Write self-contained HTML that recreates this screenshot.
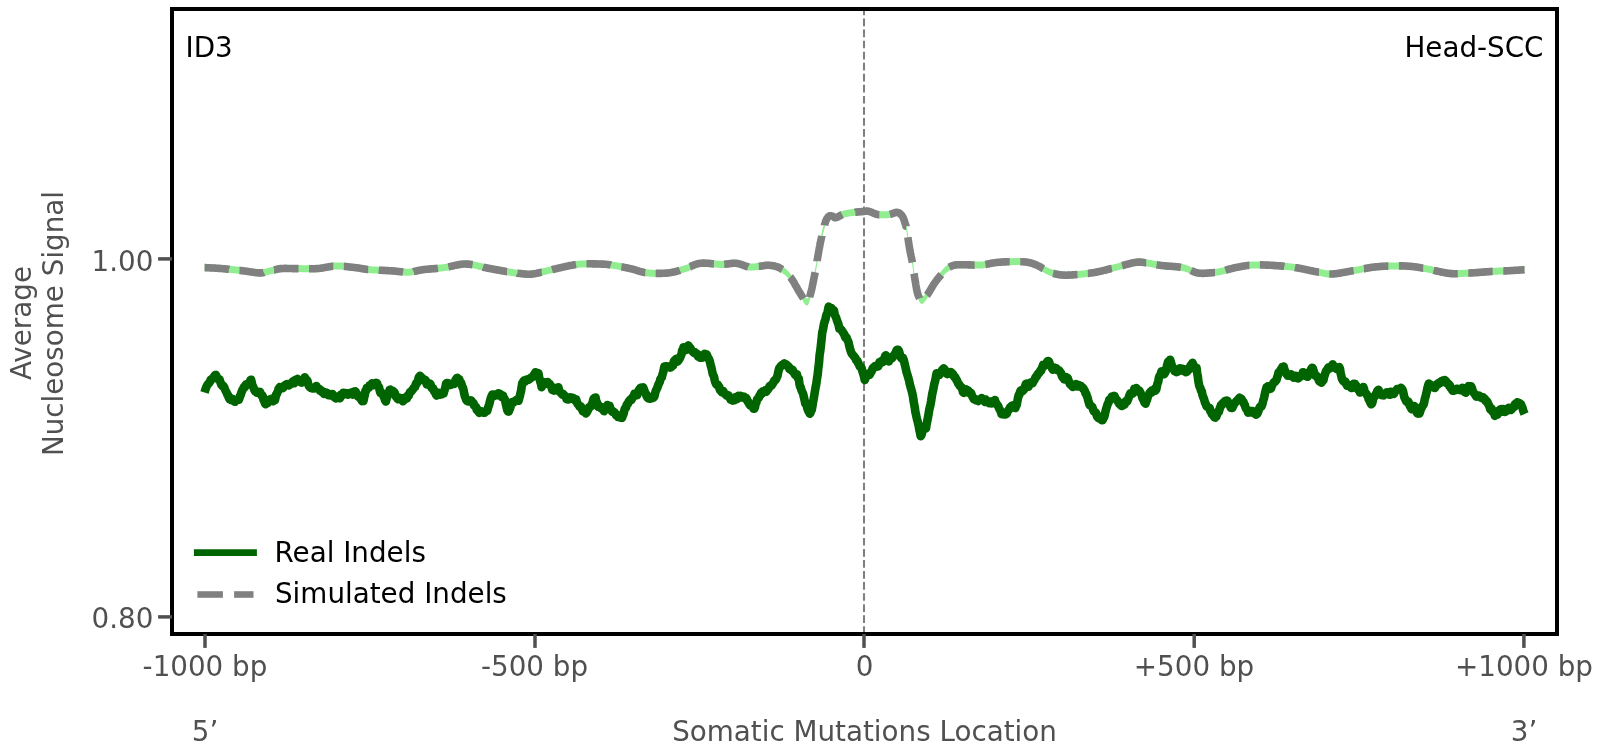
<!DOCTYPE html>
<html><head><meta charset="utf-8"><style>
html,body{margin:0;padding:0;background:#fff;}
svg{display:block;will-change:transform;}
text{font-family:'DejaVu Sans','Liberation Sans',sans-serif;font-size:27.78px;}
.g{fill:#505050;}
.k{fill:#000000;}
</style></head><body>
<svg width="1603" height="756" viewBox="0 0 1603 756">
<rect x="0" y="0" width="1603" height="756" fill="#ffffff"/>
<!-- vertical dashed line at 0 -->
<line x1="864" y1="634" x2="864" y2="9" stroke="#808080" stroke-width="2.08" stroke-dasharray="7.7 3.35"/>
<!-- simulated: lightgreen under gray dashed -->
<polygon points="204.6,264.1 205.0,264.1 205.4,264.1 205.9,264.2 206.4,264.2 207.0,264.2 207.6,264.3 208.2,264.3 208.9,264.3 209.6,264.3 210.3,264.4 211.1,264.4 211.9,264.5 212.7,264.5 213.5,264.5 214.3,264.6 215.1,264.6 216.0,264.7 216.8,264.7 217.7,264.8 218.5,264.9 219.3,264.9 220.2,265.0 221.0,265.0 221.8,265.1 222.6,265.2 223.4,265.2 224.3,265.3 225.2,265.4 226.0,265.5 226.9,265.6 227.8,265.7 228.7,265.7 229.6,265.8 230.6,265.9 231.5,266.0 232.4,266.1 233.3,266.2 234.3,266.3 235.2,266.4 236.1,266.5 237.0,266.6 237.9,266.7 238.8,266.8 239.7,266.9 240.5,267.0 241.4,267.1 242.2,267.2 243.0,267.3 243.8,267.4 244.6,267.5 245.4,267.6 246.2,267.7 246.9,267.8 247.7,267.9 248.5,268.0 249.2,268.2 250.0,268.3 250.7,268.4 251.4,268.5 252.2,268.6 252.9,268.7 253.6,268.8 254.3,268.9 255.0,269.0 255.6,269.1 256.3,269.2 256.9,269.2 257.6,269.3 258.2,269.3 258.8,269.4 259.4,269.4 260.0,269.4 260.6,269.4 261.1,269.4 261.6,269.3 262.1,269.3 262.6,269.2 263.1,269.2 263.6,269.1 264.0,269.0 264.5,268.9 264.9,268.8 265.3,268.7 265.7,268.6 266.1,268.5 266.5,268.4 266.9,268.3 267.3,268.2 267.7,268.0 268.1,267.9 268.5,267.8 268.9,267.7 269.3,267.6 269.7,267.5 270.2,267.4 270.6,267.3 271.0,267.2 271.5,267.1 271.9,267.0 272.3,266.9 272.7,266.8 273.1,266.7 273.5,266.6 273.9,266.5 274.3,266.4 274.7,266.3 275.1,266.2 275.5,266.1 275.9,266.0 276.4,265.9 276.8,265.8 277.2,265.7 277.6,265.6 278.1,265.5 278.5,265.4 279.0,265.3 279.5,265.3 280.0,265.2 280.5,265.1 281.0,265.1 281.5,265.1 282.1,265.0 282.6,265.0 283.2,265.0 283.7,265.0 284.3,264.9 284.9,264.9 285.4,264.9 286.0,264.9 286.6,264.9 287.2,265.0 287.8,265.0 288.5,265.0 289.1,265.0 289.7,265.0 290.4,265.0 291.0,265.0 291.7,265.0 292.4,265.1 293.1,265.1 293.8,265.1 294.5,265.1 295.3,265.1 296.0,265.1 296.8,265.1 297.5,265.1 298.4,265.1 299.2,265.1 300.0,265.1 300.9,265.2 301.7,265.2 302.6,265.2 303.5,265.2 304.4,265.2 305.3,265.2 306.2,265.3 307.2,265.3 308.1,265.3 309.0,265.3 309.9,265.3 310.8,265.3 311.8,265.3 312.7,265.3 313.5,265.3 314.4,265.2 315.3,265.2 316.2,265.1 317.0,265.1 317.8,265.0 318.7,265.0 319.5,264.9 320.3,264.8 321.1,264.7 321.9,264.5 322.7,264.4 323.5,264.3 324.3,264.1 325.1,264.0 325.8,263.8 326.6,263.7 327.4,263.6 328.2,263.4 329.0,263.3 329.7,263.2 330.5,263.0 331.3,262.9 332.1,262.8 332.9,262.7 333.6,262.6 334.4,262.6 335.2,262.5 336.0,262.5 336.8,262.5 337.6,262.5 338.4,262.5 339.2,262.5 340.0,262.6 340.8,262.6 341.7,262.6 342.5,262.7 343.3,262.8 344.1,262.8 344.9,262.9 345.8,263.0 346.6,263.1 347.4,263.2 348.2,263.3 349.0,263.4 349.8,263.5 350.5,263.6 351.3,263.7 352.1,263.8 352.8,263.8 353.6,263.9 354.3,264.0 355.0,264.1 355.7,264.2 356.4,264.3 357.0,264.3 357.7,264.4 358.3,264.5 358.9,264.6 359.5,264.7 360.1,264.8 360.6,264.9 361.2,265.0 361.8,265.1 362.3,265.2 362.9,265.3 363.5,265.4 364.1,265.5 364.7,265.6 365.3,265.6 365.9,265.7 366.5,265.8 367.2,265.9 367.8,266.0 368.5,266.1 369.3,266.1 370.0,266.2 370.8,266.3 371.6,266.3 372.4,266.4 373.3,266.4 374.1,266.5 375.0,266.5 375.9,266.6 376.9,266.6 377.8,266.7 378.7,266.7 379.7,266.8 380.6,266.8 381.6,266.8 382.5,266.9 383.5,266.9 384.4,266.9 385.4,267.0 386.3,267.0 387.2,267.1 388.1,267.1 389.0,267.2 389.8,267.2 390.7,267.2 391.5,267.3 392.3,267.4 393.1,267.4 393.9,267.5 394.6,267.6 395.4,267.6 396.1,267.7 396.9,267.8 397.6,267.9 398.3,268.0 399.0,268.1 399.7,268.1 400.4,268.2 401.1,268.3 401.8,268.4 402.5,268.4 403.2,268.5 403.9,268.6 404.5,268.6 405.2,268.7 405.9,268.7 406.5,268.7 407.2,268.7 407.8,268.7 408.5,268.7 409.1,268.7 409.8,268.6 410.4,268.6 411.0,268.5 411.6,268.4 412.1,268.3 412.7,268.2 413.3,268.1 413.8,268.0 414.4,267.9 414.9,267.8 415.5,267.7 416.0,267.5 416.6,267.4 417.2,267.3 417.7,267.1 418.3,267.0 418.9,266.9 419.6,266.8 420.2,266.6 420.9,266.5 421.6,266.4 422.3,266.3 423.0,266.2 423.8,266.1 424.5,266.0 425.4,265.9 426.2,265.8 427.0,265.8 427.9,265.7 428.8,265.6 429.7,265.5 430.6,265.4 431.5,265.4 432.4,265.3 433.3,265.2 434.3,265.1 435.2,265.1 436.2,265.0 437.1,264.9 438.0,264.8 439.0,264.7 439.9,264.6 440.9,264.5 441.8,264.4 442.7,264.3 443.6,264.2 444.5,264.1 445.4,264.0 446.3,263.8 447.2,263.7 448.0,263.5 448.9,263.3 449.8,263.1 450.7,262.9 451.6,262.7 452.5,262.5 453.3,262.3 454.2,262.1 455.1,261.9 456.0,261.7 456.9,261.5 457.8,261.4 458.6,261.2 459.5,261.0 460.4,260.9 461.3,260.8 462.2,260.7 463.0,260.6 463.9,260.5 464.8,260.5 465.7,260.5 466.6,260.5 467.5,260.6 468.4,260.6 469.2,260.7 470.1,260.8 471.0,261.0 471.9,261.1 472.8,261.3 473.7,261.5 474.6,261.6 475.5,261.8 476.4,262.0 477.3,262.2 478.1,262.5 479.0,262.7 479.9,262.9 480.8,263.1 481.7,263.3 482.6,263.5 483.5,263.8 484.4,264.0 485.2,264.1 486.1,264.3 487.0,264.5 487.9,264.7 488.8,264.8 489.7,265.0 490.6,265.2 491.5,265.3 492.5,265.5 493.4,265.7 494.4,265.9 495.3,266.0 496.2,266.2 497.2,266.4 498.1,266.5 499.0,266.7 499.9,266.9 500.8,267.0 501.7,267.2 502.5,267.4 503.4,267.5 504.2,267.6 505.0,267.8 505.8,267.9 506.6,268.1 507.3,268.2 508.0,268.3 508.7,268.4 509.3,268.5 509.9,268.6 510.5,268.7 511.1,268.8 511.6,268.9 512.1,269.0 512.6,269.1 513.1,269.1 513.6,269.2 514.1,269.3 514.5,269.4 515.0,269.4 515.4,269.5 515.8,269.5 516.3,269.6 516.7,269.7 517.2,269.7 517.6,269.8 518.1,269.8 518.5,269.9 519.0,269.9 519.5,270.0 520.0,270.0 520.5,270.0 521.0,270.1 521.5,270.2 522.0,270.2 522.5,270.3 523.0,270.3 523.5,270.4 523.9,270.4 524.4,270.5 524.9,270.5 525.4,270.6 525.9,270.6 526.4,270.7 526.9,270.7 527.4,270.7 528.0,270.7 528.5,270.7 529.1,270.7 529.6,270.7 530.2,270.7 530.8,270.7 531.4,270.6 532.0,270.6 532.7,270.5 533.4,270.4 534.0,270.3 534.7,270.2 535.4,270.1 536.2,269.9 536.9,269.8 537.6,269.6 538.4,269.5 539.1,269.3 539.9,269.1 540.7,268.9 541.4,268.7 542.3,268.5 543.1,268.3 543.9,268.1 544.7,267.9 545.6,267.7 546.4,267.5 547.3,267.2 548.2,267.0 549.1,266.8 550.0,266.6 550.9,266.4 551.8,266.2 552.7,266.0 553.7,265.8 554.7,265.6 555.7,265.3 556.8,265.1 557.8,264.8 558.9,264.6 560.0,264.3 561.1,264.1 562.2,263.8 563.3,263.6 564.4,263.3 565.5,263.1 566.7,262.8 567.8,262.6 568.9,262.3 570.0,262.1 571.1,261.9 572.2,261.7 573.2,261.5 574.3,261.3 575.3,261.2 576.3,261.0 577.3,260.9 578.3,260.8 579.2,260.7 580.2,260.6 581.2,260.5 582.1,260.5 583.1,260.4 584.1,260.4 585.0,260.4 585.9,260.3 586.9,260.3 587.8,260.3 588.7,260.3 589.6,260.3 590.5,260.3 591.4,260.3 592.2,260.3 593.1,260.4 593.9,260.4 594.7,260.4 595.5,260.4 596.3,260.4 597.0,260.5 597.8,260.5 598.5,260.5 599.2,260.5 599.8,260.5 600.5,260.5 601.0,260.6 601.6,260.6 602.1,260.6 602.6,260.6 603.1,260.6 603.6,260.7 604.1,260.7 604.5,260.7 605.0,260.8 605.4,260.8 605.9,260.8 606.3,260.9 606.8,260.9 607.3,261.0 607.8,261.0 608.3,261.1 608.8,261.2 609.4,261.2 609.9,261.3 610.6,261.4 611.2,261.5 611.9,261.6 612.6,261.7 613.3,261.8 614.0,261.9 614.8,262.1 615.6,262.2 616.4,262.3 617.2,262.5 618.0,262.6 618.8,262.8 619.6,262.9 620.5,263.1 621.3,263.3 622.2,263.4 623.0,263.6 623.9,263.8 624.7,263.9 625.5,264.1 626.3,264.3 627.2,264.4 628.0,264.6 628.8,264.8 629.5,264.9 630.3,265.1 631.0,265.3 631.8,265.4 632.5,265.6 633.2,265.8 633.9,266.0 634.6,266.2 635.3,266.4 636.0,266.6 636.6,266.9 637.3,267.1 638.0,267.3 638.7,267.5 639.3,267.7 640.0,267.9 640.7,268.1 641.4,268.3 642.1,268.4 642.8,268.6 643.5,268.8 644.2,268.9 645.0,269.1 645.7,269.2 646.5,269.3 647.3,269.4 648.1,269.5 648.9,269.6 649.8,269.6 650.6,269.7 651.5,269.8 652.4,269.8 653.3,269.8 654.2,269.9 655.1,269.9 656.1,269.9 657.0,269.9 657.9,269.9 658.8,269.9 659.8,269.9 660.7,269.9 661.6,269.9 662.5,269.8 663.4,269.8 664.3,269.8 665.2,269.7 666.0,269.6 666.9,269.6 667.7,269.5 668.5,269.4 669.3,269.3 670.1,269.2 670.8,269.1 671.6,268.9 672.3,268.8 673.1,268.7 673.8,268.5 674.5,268.3 675.2,268.1 675.9,268.0 676.6,267.8 677.3,267.6 678.0,267.4 678.7,267.2 679.4,267.0 680.1,266.8 680.7,266.6 681.4,266.3 682.1,266.1 682.7,265.9 683.4,265.7 684.1,265.5 684.7,265.3 685.4,265.1 686.1,264.9 686.7,264.7 687.3,264.4 687.9,264.2 688.5,264.0 689.1,263.7 689.7,263.4 690.3,263.2 690.9,262.9 691.4,262.6 692.0,262.4 692.6,262.1 693.2,261.9 693.7,261.6 694.3,261.4 694.9,261.1 695.6,260.9 696.2,260.7 696.8,260.5 697.5,260.3 698.1,260.2 698.8,260.0 699.6,259.9 700.3,259.8 701.1,259.7 701.9,259.7 702.7,259.6 703.5,259.6 704.4,259.6 705.3,259.7 706.2,259.7 707.1,259.8 708.1,259.8 709.0,259.9 710.0,260.0 710.9,260.1 711.9,260.2 712.8,260.3 713.7,260.4 714.7,260.5 715.6,260.5 716.5,260.6 717.4,260.7 718.3,260.8 719.1,260.8 719.9,260.9 720.7,260.9 721.5,260.9 722.2,260.9 723.0,260.9 723.7,260.8 724.4,260.8 725.0,260.7 725.7,260.7 726.3,260.6 727.0,260.5 727.6,260.4 728.2,260.4 728.8,260.3 729.4,260.2 730.0,260.1 730.6,260.0 731.2,260.0 731.8,259.9 732.3,259.8 732.9,259.8 733.5,259.8 734.0,259.7 734.6,259.7 735.2,259.7 735.7,259.8 736.3,259.8 736.9,259.9 737.4,260.0 738.0,260.1 738.6,260.2 739.1,260.3 739.7,260.5 740.2,260.7 740.8,260.8 741.3,261.0 741.8,261.2 742.4,261.4 742.9,261.6 743.4,261.8 743.9,262.0 744.5,262.2 745.0,262.4 745.5,262.6 746.0,262.8 746.5,262.9 747.0,263.1 747.5,263.2 748.0,263.3 748.5,263.4 749.0,263.5 749.5,263.6 750.0,263.6 750.5,263.6 751.0,263.6 751.4,263.6 751.9,263.6 752.4,263.6 752.9,263.6 753.3,263.5 753.8,263.5 754.3,263.4 754.7,263.4 755.2,263.3 755.6,263.3 756.1,263.2 756.5,263.1 757.0,263.1 757.4,263.0 757.9,263.0 758.3,262.9 758.7,262.8 759.2,262.8 759.6,262.7 760.0,262.7 760.4,262.7 760.8,262.6 761.2,262.6 761.6,262.5 762.0,262.5 762.4,262.4 762.7,262.3 763.1,262.3 763.5,262.2 763.8,262.1 764.2,262.1 764.6,262.0 764.9,262.0 765.3,261.9 765.7,261.9 766.0,261.8 766.4,261.8 766.8,261.8 767.1,261.8 767.5,261.7 767.9,261.7 768.3,261.7 768.7,261.8 769.1,261.8 769.5,261.8 769.9,261.9 770.4,261.9 770.8,262.0 771.2,262.0 771.7,262.1 772.1,262.1 772.6,262.2 773.0,262.3 773.4,262.3 773.9,262.4 774.4,262.5 774.8,262.6 775.3,262.7 775.7,262.9 776.2,263.0 776.6,263.1 777.1,263.3 777.5,263.5 778.0,263.6 778.5,263.8 778.9,264.0 779.4,264.3 779.8,264.5 780.2,264.8 780.7,265.0 781.1,265.3 781.6,265.6 782.0,265.9 782.5,266.2 782.9,266.5 783.4,266.9 783.8,267.2 784.3,267.6 784.7,267.9 785.2,268.3 785.6,268.7 786.1,269.1 786.5,269.5 787.0,269.9 787.4,270.4 787.9,270.8 788.3,271.3 788.7,271.7 789.1,272.2 789.6,272.7 790.0,273.2 790.4,273.7 790.8,274.2 791.2,274.8 791.6,275.4 792.0,276.0 792.4,276.6 792.9,277.2 793.3,277.9 793.7,278.5 794.1,279.2 794.4,279.9 794.8,280.6 795.2,281.3 795.6,282.0 796.0,282.7 796.4,283.3 796.8,284.0 797.1,284.7 797.5,285.4 797.9,286.0 798.2,286.6 798.6,287.2 798.9,287.8 799.3,288.4 799.6,288.9 799.9,289.4 800.3,289.9 800.6,290.5 800.9,291.0 801.2,291.6 801.6,292.1 801.9,292.6 802.2,293.1 802.5,293.6 802.8,294.1 803.1,294.6 803.4,295.1 803.7,295.5 804.0,296.0 804.2,296.4 804.5,296.7 804.8,297.1 805.1,297.4 805.3,297.7 805.6,297.9 805.8,298.1 806.0,298.3 806.3,298.4 806.5,298.5 806.7,298.5 806.9,298.5 807.1,298.5 807.3,298.5 807.5,298.4 807.6,298.2 807.8,298.1 807.9,297.9 808.1,297.7 808.2,297.5 808.4,297.2 808.5,296.9 808.6,296.6 808.8,296.2 808.9,295.9 809.0,295.5 809.2,295.1 809.3,294.6 809.4,294.2 809.6,293.7 809.7,293.2 809.9,292.6 810.0,292.1 810.2,291.5 810.4,290.9 810.6,290.3 810.7,289.6 810.9,288.9 811.1,288.1 811.3,287.4 811.5,286.6 811.7,285.7 811.9,284.9 812.1,284.0 812.3,283.1 812.4,282.2 812.6,281.3 812.8,280.4 813.0,279.4 813.2,278.5 813.4,277.5 813.6,276.5 813.8,275.5 814.0,274.5 814.2,273.5 814.4,272.6 814.6,271.6 814.8,270.6 815.0,269.6 815.2,268.6 815.4,267.5 815.6,266.4 815.8,265.3 816.0,264.2 816.2,263.1 816.4,261.9 816.6,260.8 816.8,259.6 816.9,258.4 817.1,257.3 817.3,256.1 817.5,255.0 817.7,253.8 817.9,252.7 818.1,251.6 818.3,250.5 818.5,249.5 818.6,248.4 818.8,247.4 819.0,246.5 819.1,245.6 819.3,244.7 819.5,243.9 819.6,243.1 819.8,242.3 819.9,241.5 820.0,240.8 820.2,240.1 820.3,239.5 820.5,238.8 820.6,238.2 820.7,237.5 820.8,236.9 821.0,236.4 821.1,235.8 821.2,235.2 821.3,234.7 821.5,234.1 821.6,233.6 821.7,233.1 821.8,232.6 821.9,232.0 822.0,231.5 822.2,231.0 822.3,230.5 822.4,230.0 822.5,229.5 822.6,229.0 822.8,228.5 822.9,228.0 823.0,227.5 823.1,227.1 823.2,226.6 823.3,226.1 823.4,225.7 823.5,225.2 823.7,224.8 823.8,224.4 823.9,224.0 824.0,223.6 824.1,223.2 824.2,222.8 824.3,222.4 824.4,222.0 824.5,221.7 824.6,221.3 824.7,221.0 824.8,220.6 824.9,220.3 825.0,220.0 825.1,219.7 825.2,219.4 825.3,219.1 825.4,218.8 825.5,218.6 825.5,218.3 825.6,218.1 825.7,217.9 825.8,217.6 825.9,217.4 825.9,217.2 826.0,217.0 826.1,216.8 826.2,216.7 826.3,216.5 826.3,216.3 826.4,216.1 826.5,216.0 826.6,215.8 826.7,215.6 826.7,215.5 826.8,215.3 826.9,215.2 827.0,215.0 827.1,214.8 827.2,214.7 827.3,214.5 827.4,214.4 827.4,214.3 827.5,214.1 827.6,214.0 827.7,213.9 827.8,213.8 827.9,213.6 828.0,213.5 828.1,213.4 828.2,213.3 828.3,213.2 828.4,213.1 828.5,213.0 828.6,213.0 828.7,212.9 828.8,212.8 828.9,212.7 829.0,212.7 829.1,212.6 829.2,212.6 829.3,212.5 829.4,212.5 829.5,212.4 829.7,212.4 829.8,212.4 829.9,212.3 830.1,212.3 830.2,212.3 830.3,212.3 830.5,212.3 830.6,212.3 830.7,212.3 830.9,212.3 831.0,212.4 831.2,212.4 831.3,212.4 831.4,212.4 831.6,212.5 831.7,212.5 831.9,212.5 832.0,212.6 832.1,212.6 832.3,212.6 832.4,212.7 832.5,212.7 832.6,212.7 832.7,212.8 832.8,212.9 833.0,212.9 833.1,213.0 833.2,213.1 833.3,213.2 833.4,213.2 833.5,213.3 833.6,213.4 833.7,213.5 833.8,213.6 833.9,213.7 834.0,213.8 834.1,213.9 834.2,213.9 834.3,214.0 834.4,214.1 834.5,214.1 834.6,214.2 834.7,214.2 834.8,214.3 835.0,214.3 835.1,214.3 835.2,214.3 835.4,214.3 835.5,214.3 835.6,214.2 835.8,214.2 835.9,214.2 836.1,214.1 836.2,214.1 836.4,214.0 836.5,214.0 836.7,213.9 836.9,213.8 837.0,213.8 837.2,213.7 837.3,213.6 837.5,213.5 837.7,213.4 837.8,213.4 838.0,213.3 838.1,213.2 838.3,213.1 838.5,213.1 838.6,213.0 838.8,212.9 839.0,212.8 839.1,212.7 839.3,212.7 839.5,212.6 839.6,212.5 839.8,212.4 839.9,212.3 840.1,212.2 840.3,212.1 840.4,212.0 840.6,211.9 840.8,211.8 840.9,211.7 841.1,211.7 841.3,211.6 841.4,211.5 841.6,211.4 841.8,211.3 842.0,211.2 842.2,211.1 842.4,211.0 842.6,210.9 842.8,210.9 843.0,210.8 843.2,210.7 843.4,210.7 843.7,210.6 843.9,210.5 844.1,210.5 844.4,210.4 844.6,210.3 844.9,210.3 845.1,210.2 845.4,210.2 845.6,210.1 845.9,210.1 846.1,210.0 846.4,210.0 846.7,209.9 846.9,209.9 847.2,209.8 847.4,209.8 847.7,209.7 848.0,209.7 848.2,209.6 848.5,209.6 848.7,209.5 849.0,209.5 849.3,209.5 849.5,209.4 849.8,209.4 850.0,209.3 850.3,209.3 850.5,209.3 850.8,209.2 851.0,209.2 851.3,209.2 851.5,209.1 851.8,209.1 852.1,209.1 852.3,209.0 852.6,209.0 852.8,209.0 853.1,208.9 853.3,208.9 853.6,208.9 853.9,208.8 854.1,208.8 854.4,208.8 854.7,208.8 854.9,208.7 855.2,208.7 855.5,208.7 855.7,208.6 856.0,208.6 856.3,208.6 856.6,208.6 856.9,208.5 857.1,208.5 857.4,208.5 857.7,208.4 858.0,208.4 858.3,208.4 858.6,208.4 858.9,208.3 859.1,208.3 859.4,208.3 859.7,208.3 860.0,208.2 860.3,208.2 860.6,208.2 860.9,208.2 861.2,208.2 861.4,208.1 861.7,208.1 862.0,208.1 862.3,208.1 862.6,208.1 862.8,208.0 863.1,208.0 863.4,208.0 863.6,207.9 863.9,207.9 864.2,207.8 864.4,207.8 864.7,207.8 865.0,207.7 865.2,207.7 865.5,207.7 865.8,207.7 866.0,207.6 866.3,207.6 866.6,207.6 866.9,207.6 867.2,207.6 867.5,207.6 867.8,207.7 868.1,207.7 868.4,207.7 868.7,207.8 869.0,207.9 869.4,208.0 869.7,208.1 870.0,208.2 870.3,208.3 870.7,208.4 871.0,208.6 871.4,208.7 871.7,208.9 872.1,209.0 872.4,209.2 872.8,209.4 873.2,209.5 873.5,209.7 873.9,209.9 874.3,210.0 874.7,210.2 875.1,210.3 875.4,210.5 875.8,210.6 876.3,210.7 876.7,210.8 877.1,210.9 877.5,211.0 877.9,211.1 878.4,211.1 878.8,211.2 879.3,211.2 879.8,211.2 880.3,211.3 880.8,211.3 881.3,211.3 881.8,211.3 882.3,211.3 882.8,211.3 883.4,211.3 883.9,211.3 884.4,211.3 884.9,211.3 885.4,211.3 885.9,211.3 886.4,211.2 886.9,211.2 887.3,211.2 887.8,211.1 888.3,211.1 888.7,211.0 889.1,211.0 889.5,210.9 889.9,210.9 890.3,210.8 890.7,210.7 891.1,210.6 891.4,210.5 891.8,210.4 892.1,210.2 892.5,210.1 892.8,210.0 893.2,209.9 893.5,209.7 893.8,209.6 894.2,209.5 894.5,209.4 894.8,209.3 895.1,209.2 895.4,209.1 895.7,209.0 896.0,208.9 896.3,208.9 896.5,208.9 896.8,208.9 897.1,208.9 897.4,208.9 897.6,209.0 897.9,209.1 898.1,209.1 898.4,209.2 898.6,209.3 898.9,209.4 899.1,209.5 899.3,209.7 899.5,209.8 899.8,210.0 900.0,210.1 900.2,210.3 900.4,210.4 900.6,210.6 900.8,210.8 901.0,211.0 901.1,211.2 901.3,211.4 901.5,211.6 901.7,211.8 901.9,212.1 902.0,212.3 902.2,212.5 902.4,212.7 902.5,213.0 902.7,213.2 902.8,213.5 903.0,213.8 903.1,214.1 903.2,214.4 903.4,214.7 903.5,215.0 903.6,215.4 903.8,215.7 903.9,216.0 904.0,216.3 904.1,216.7 904.2,217.0 904.3,217.3 904.4,217.7 904.5,218.0 904.6,218.3 904.7,218.6 904.8,218.9 904.9,219.2 905.0,219.5 905.1,219.8 905.2,220.1 905.3,220.3 905.3,220.5 905.4,220.7 905.5,220.9 905.5,221.0 905.6,221.2 905.7,221.4 905.7,221.5 905.8,221.7 905.8,221.8 905.9,222.0 905.9,222.1 905.9,222.3 906.0,222.5 906.0,222.8 906.1,223.0 906.2,223.3 906.2,223.6 906.3,223.9 906.4,224.3 906.4,224.7 906.5,225.1 906.6,225.6 906.7,226.1 906.8,226.7 906.9,227.4 907.0,228.0 907.1,228.8 907.2,229.5 907.3,230.3 907.5,231.1 907.6,231.9 907.7,232.8 907.8,233.6 908.0,234.5 908.1,235.4 908.2,236.3 908.4,237.2 908.5,238.0 908.6,238.9 908.7,239.8 908.9,240.6 909.0,241.4 909.1,242.3 909.3,243.0 909.4,243.8 909.5,244.5 909.6,245.2 909.7,245.9 909.9,246.5 910.0,247.2 910.1,247.8 910.2,248.5 910.4,249.1 910.5,249.7 910.6,250.3 910.7,250.9 910.9,251.5 911.0,252.1 911.1,252.7 911.2,253.2 911.4,253.8 911.5,254.4 911.6,255.0 911.7,255.6 911.8,256.1 912.0,256.7 912.1,257.3 912.2,257.9 912.3,258.5 912.4,259.1 912.5,259.7 912.6,260.3 912.7,260.9 912.8,261.5 912.9,262.1 913.0,262.7 913.1,263.3 913.2,263.9 913.2,264.5 913.3,265.1 913.4,265.7 913.5,266.3 913.6,266.9 913.7,267.5 913.8,268.1 913.8,268.7 913.9,269.3 914.0,269.9 914.1,270.5 914.2,271.1 914.3,271.7 914.4,272.3 914.5,273.0 914.6,273.6 914.7,274.2 914.8,274.9 914.9,275.6 915.0,276.3 915.1,277.0 915.3,277.7 915.4,278.4 915.5,279.1 915.6,279.9 915.7,280.6 915.8,281.3 916.0,282.1 916.1,282.8 916.2,283.5 916.3,284.2 916.5,284.9 916.6,285.5 916.7,286.2 916.8,286.8 917.0,287.4 917.1,288.0 917.2,288.6 917.4,289.1 917.5,289.6 917.6,290.1 917.8,290.5 917.9,291.0 918.1,291.4 918.2,291.8 918.4,292.2 918.5,292.6 918.7,293.0 918.8,293.4 919.0,293.7 919.1,294.0 919.3,294.3 919.5,294.6 919.6,294.9 919.8,295.2 919.9,295.4 920.1,295.7 920.2,295.9 920.4,296.1 920.5,296.3 920.7,296.5 920.8,296.6 921.0,296.8 921.1,296.9 921.2,297.0 921.4,297.1 921.5,297.2 921.6,297.2 921.7,297.2 921.8,297.2 922.0,297.2 922.1,297.2 922.2,297.2 922.3,297.1 922.4,297.0 922.5,297.0 922.6,296.9 922.7,296.8 922.8,296.7 922.9,296.5 923.1,296.4 923.2,296.3 923.3,296.1 923.4,296.0 923.6,295.9 923.7,295.7 923.9,295.6 924.0,295.4 924.2,295.2 924.3,295.1 924.5,294.9 924.6,294.7 924.8,294.6 924.9,294.4 925.1,294.2 925.2,294.0 925.4,293.8 925.6,293.6 925.8,293.4 925.9,293.1 926.1,292.9 926.3,292.6 926.5,292.4 926.7,292.1 926.9,291.8 927.1,291.6 927.3,291.3 927.5,291.0 927.7,290.6 927.9,290.3 928.2,290.0 928.4,289.6 928.6,289.2 928.9,288.8 929.2,288.4 929.4,288.0 929.7,287.6 930.0,287.1 930.2,286.6 930.5,286.2 930.8,285.7 931.1,285.2 931.4,284.7 931.7,284.2 932.0,283.7 932.3,283.1 932.6,282.6 933.0,282.1 933.3,281.6 933.6,281.0 933.9,280.5 934.3,280.0 934.6,279.5 935.0,279.0 935.3,278.5 935.7,278.0 936.1,277.5 936.5,277.0 936.8,276.5 937.3,276.0 937.7,275.4 938.1,274.9 938.5,274.4 939.0,273.8 939.4,273.3 939.9,272.8 940.3,272.2 940.8,271.7 941.2,271.2 941.6,270.7 942.1,270.1 942.5,269.7 943.0,269.2 943.4,268.7 943.8,268.3 944.2,267.8 944.7,267.4 945.0,267.0 945.4,266.6 945.8,266.3 946.2,266.0 946.5,265.7 946.8,265.4 947.2,265.1 947.5,264.9 947.8,264.6 948.1,264.4 948.4,264.2 948.7,264.0 949.0,263.8 949.3,263.6 949.5,263.5 949.8,263.3 950.1,263.2 950.4,263.0 950.7,262.9 951.0,262.8 951.2,262.7 951.5,262.5 951.8,262.4 952.1,262.3 952.5,262.2 952.8,262.1 953.1,262.0 953.4,261.9 953.7,261.8 954.0,261.7 954.3,261.7 954.6,261.6 954.9,261.5 955.2,261.5 955.5,261.4 955.8,261.4 956.1,261.4 956.4,261.3 956.7,261.3 957.0,261.3 957.3,261.3 957.7,261.3 958.1,261.3 958.4,261.2 958.8,261.2 959.3,261.2 959.7,261.2 960.2,261.2 960.7,261.2 961.2,261.2 961.8,261.2 962.4,261.2 963.0,261.2 963.7,261.2 964.4,261.2 965.2,261.2 966.0,261.3 966.7,261.3 967.6,261.3 968.4,261.4 969.2,261.4 970.1,261.4 971.0,261.5 971.9,261.5 972.7,261.5 973.6,261.6 974.5,261.6 975.4,261.6 976.3,261.6 977.1,261.6 978.0,261.6 978.8,261.6 979.6,261.6 980.4,261.5 981.2,261.5 981.9,261.4 982.7,261.4 983.4,261.3 984.1,261.2 984.8,261.1 985.4,261.0 986.1,260.9 986.7,260.7 987.4,260.6 988.0,260.5 988.7,260.3 989.3,260.2 990.0,260.1 990.6,259.9 991.3,259.8 992.0,259.6 992.7,259.5 993.4,259.4 994.2,259.3 994.9,259.2 995.7,259.1 996.5,259.0 997.3,258.9 998.2,258.8 999.1,258.7 1000.1,258.7 1001.1,258.6 1002.1,258.5 1003.2,258.5 1004.3,258.4 1005.4,258.4 1006.5,258.3 1007.7,258.3 1008.8,258.2 1010.0,258.2 1011.2,258.2 1012.3,258.2 1013.5,258.1 1014.6,258.1 1015.8,258.1 1016.9,258.1 1017.9,258.1 1019.0,258.1 1020.0,258.1 1021.0,258.2 1021.9,258.2 1022.8,258.2 1023.6,258.3 1024.4,258.4 1025.1,258.4 1025.8,258.5 1026.5,258.6 1027.1,258.7 1027.7,258.8 1028.3,258.9 1028.8,259.0 1029.3,259.1 1029.8,259.2 1030.3,259.3 1030.8,259.4 1031.3,259.6 1031.7,259.7 1032.2,259.9 1032.6,260.0 1033.1,260.2 1033.5,260.4 1034.0,260.5 1034.4,260.7 1034.9,260.9 1035.4,261.1 1035.9,261.3 1036.4,261.5 1036.9,261.7 1037.5,262.0 1038.0,262.2 1038.5,262.5 1039.0,262.7 1039.6,263.0 1040.1,263.3 1040.6,263.6 1041.1,263.9 1041.7,264.3 1042.2,264.6 1042.7,264.9 1043.2,265.2 1043.7,265.5 1044.3,265.9 1044.8,266.2 1045.3,266.5 1045.8,266.8 1046.4,267.1 1046.9,267.3 1047.4,267.6 1047.9,267.8 1048.5,268.1 1049.0,268.3 1049.5,268.5 1050.0,268.7 1050.6,268.9 1051.1,269.1 1051.6,269.3 1052.1,269.4 1052.6,269.6 1053.1,269.8 1053.6,269.9 1054.1,270.1 1054.6,270.2 1055.1,270.4 1055.6,270.5 1056.2,270.6 1056.7,270.7 1057.2,270.8 1057.8,271.0 1058.3,271.1 1058.9,271.1 1059.4,271.2 1060.0,271.3 1060.6,271.4 1061.2,271.4 1061.8,271.5 1062.4,271.5 1063.1,271.6 1063.7,271.6 1064.4,271.6 1065.0,271.7 1065.7,271.7 1066.4,271.7 1067.1,271.7 1067.8,271.6 1068.5,271.6 1069.2,271.6 1069.9,271.6 1070.6,271.5 1071.4,271.5 1072.1,271.4 1072.8,271.4 1073.6,271.3 1074.3,271.3 1075.0,271.2 1075.8,271.2 1076.5,271.1 1077.3,271.0 1078.0,271.0 1078.8,270.9 1079.6,270.8 1080.3,270.8 1081.1,270.7 1081.8,270.6 1082.6,270.5 1083.4,270.5 1084.2,270.4 1084.9,270.3 1085.7,270.2 1086.5,270.1 1087.3,270.0 1088.1,269.9 1088.9,269.8 1089.7,269.7 1090.5,269.6 1091.3,269.4 1092.1,269.3 1092.9,269.2 1093.8,269.1 1094.6,268.9 1095.4,268.8 1096.2,268.6 1097.1,268.5 1097.9,268.3 1098.7,268.1 1099.6,267.9 1100.5,267.8 1101.3,267.6 1102.2,267.4 1103.1,267.1 1104.0,266.9 1104.9,266.7 1105.8,266.5 1106.8,266.2 1107.7,266.0 1108.6,265.8 1109.5,265.5 1110.4,265.3 1111.3,265.0 1112.2,264.8 1113.1,264.5 1114.0,264.3 1114.8,264.1 1115.7,263.9 1116.5,263.6 1117.4,263.4 1118.2,263.2 1119.0,263.0 1119.8,262.8 1120.6,262.6 1121.4,262.4 1122.1,262.2 1122.9,262.0 1123.7,261.8 1124.5,261.5 1125.2,261.3 1126.0,261.1 1126.7,260.9 1127.4,260.7 1128.2,260.5 1128.9,260.3 1129.6,260.2 1130.3,260.0 1131.0,259.8 1131.6,259.6 1132.3,259.5 1132.9,259.3 1133.6,259.2 1134.2,259.1 1134.8,259.0 1135.4,258.9 1136.0,258.8 1136.6,258.7 1137.1,258.7 1137.6,258.6 1138.1,258.6 1138.6,258.6 1139.0,258.6 1139.4,258.6 1139.8,258.6 1140.3,258.6 1140.7,258.6 1141.0,258.6 1141.4,258.7 1141.8,258.7 1142.2,258.8 1142.6,258.8 1143.0,258.9 1143.4,258.9 1143.8,259.0 1144.2,259.1 1144.7,259.1 1145.1,259.2 1145.6,259.3 1146.1,259.3 1146.6,259.4 1147.1,259.5 1147.7,259.5 1148.2,259.6 1148.8,259.7 1149.3,259.8 1149.9,259.9 1150.4,260.0 1151.0,260.1 1151.6,260.3 1152.2,260.4 1152.8,260.5 1153.4,260.6 1154.0,260.7 1154.6,260.9 1155.3,261.0 1155.9,261.1 1156.6,261.2 1157.2,261.3 1157.9,261.5 1158.6,261.6 1159.3,261.7 1160.0,261.8 1160.8,261.9 1161.5,262.0 1162.3,262.1 1163.1,262.2 1163.9,262.3 1164.7,262.3 1165.6,262.4 1166.5,262.5 1167.4,262.6 1168.3,262.6 1169.3,262.7 1170.2,262.7 1171.2,262.8 1172.1,262.9 1173.1,263.0 1174.0,263.0 1174.9,263.1 1175.9,263.2 1176.8,263.3 1177.7,263.4 1178.6,263.5 1179.5,263.6 1180.3,263.7 1181.1,263.8 1181.9,264.0 1182.7,264.1 1183.4,264.3 1184.2,264.4 1184.9,264.6 1185.6,264.9 1186.2,265.1 1186.9,265.3 1187.5,265.6 1188.2,265.8 1188.8,266.1 1189.4,266.3 1190.0,266.6 1190.6,266.9 1191.2,267.1 1191.8,267.4 1192.4,267.7 1193.0,267.9 1193.5,268.1 1194.1,268.4 1194.7,268.6 1195.2,268.8 1195.8,269.0 1196.4,269.1 1196.9,269.3 1197.5,269.4 1198.1,269.5 1198.6,269.6 1199.2,269.7 1199.8,269.7 1200.3,269.8 1200.9,269.8 1201.4,269.8 1202.0,269.8 1202.5,269.9 1203.1,269.9 1203.6,269.8 1204.2,269.8 1204.7,269.8 1205.2,269.8 1205.7,269.7 1206.3,269.7 1206.8,269.7 1207.3,269.6 1207.8,269.6 1208.3,269.5 1208.8,269.5 1209.3,269.5 1209.8,269.4 1210.3,269.4 1210.8,269.4 1211.2,269.3 1211.7,269.3 1212.1,269.3 1212.6,269.2 1213.0,269.2 1213.4,269.1 1213.8,269.1 1214.3,269.0 1214.7,269.0 1215.1,268.9 1215.5,268.9 1215.9,268.8 1216.3,268.8 1216.7,268.7 1217.1,268.6 1217.6,268.6 1218.0,268.5 1218.5,268.4 1218.9,268.3 1219.4,268.2 1219.9,268.1 1220.4,268.0 1220.9,267.9 1221.4,267.8 1222.0,267.7 1222.5,267.5 1223.1,267.4 1223.7,267.2 1224.2,267.1 1224.8,266.9 1225.4,266.8 1226.0,266.6 1226.6,266.4 1227.3,266.2 1227.9,266.1 1228.5,265.9 1229.1,265.7 1229.8,265.5 1230.4,265.4 1231.1,265.2 1231.7,265.0 1232.4,264.9 1233.0,264.7 1233.7,264.5 1234.4,264.4 1235.0,264.2 1235.7,264.1 1236.4,264.0 1237.0,263.8 1237.7,263.7 1238.4,263.6 1239.1,263.4 1239.8,263.3 1240.4,263.2 1241.1,263.0 1241.8,262.9 1242.5,262.8 1243.2,262.7 1243.9,262.5 1244.7,262.4 1245.4,262.3 1246.1,262.2 1246.9,262.1 1247.6,262.0 1248.3,261.9 1249.1,261.8 1249.9,261.7 1250.6,261.7 1251.4,261.6 1252.2,261.5 1253.0,261.5 1253.8,261.5 1254.6,261.4 1255.5,261.4 1256.3,261.4 1257.2,261.4 1258.0,261.4 1258.9,261.4 1259.8,261.4 1260.7,261.4 1261.6,261.4 1262.5,261.4 1263.4,261.5 1264.3,261.5 1265.2,261.5 1266.1,261.6 1267.0,261.6 1267.9,261.6 1268.8,261.7 1269.7,261.7 1270.6,261.8 1271.5,261.8 1272.4,261.9 1273.3,261.9 1274.2,262.0 1275.1,262.1 1276.0,262.1 1276.9,262.2 1277.7,262.2 1278.6,262.3 1279.5,262.4 1280.4,262.4 1281.3,262.5 1282.2,262.6 1283.0,262.7 1283.9,262.7 1284.8,262.8 1285.7,262.9 1286.6,263.0 1287.5,263.1 1288.3,263.2 1289.2,263.3 1290.1,263.4 1291.0,263.5 1291.9,263.6 1292.8,263.7 1293.6,263.8 1294.5,264.0 1295.4,264.1 1296.3,264.2 1297.2,264.4 1298.1,264.5 1299.0,264.7 1299.9,264.9 1300.8,265.0 1301.8,265.2 1302.7,265.4 1303.6,265.6 1304.6,265.8 1305.5,266.0 1306.4,266.2 1307.3,266.4 1308.2,266.6 1309.1,266.8 1310.0,267.0 1310.9,267.2 1311.7,267.3 1312.6,267.5 1313.4,267.7 1314.3,267.9 1315.1,268.0 1315.8,268.2 1316.6,268.3 1317.3,268.4 1318.0,268.6 1318.7,268.7 1319.4,268.8 1320.0,269.0 1320.6,269.1 1321.2,269.3 1321.8,269.4 1322.4,269.5 1322.9,269.6 1323.5,269.8 1324.0,269.9 1324.6,270.0 1325.2,270.1 1325.7,270.2 1326.3,270.2 1326.9,270.3 1327.5,270.4 1328.1,270.4 1328.7,270.5 1329.4,270.5 1330.1,270.5 1330.8,270.5 1331.5,270.5 1332.3,270.5 1333.0,270.4 1333.8,270.4 1334.7,270.3 1335.5,270.2 1336.4,270.1 1337.2,270.0 1338.1,269.9 1339.0,269.7 1339.9,269.6 1340.8,269.4 1341.7,269.3 1342.6,269.1 1343.5,268.9 1344.5,268.8 1345.4,268.6 1346.3,268.4 1347.3,268.3 1348.2,268.1 1349.1,267.9 1350.0,267.8 1350.9,267.6 1351.8,267.4 1352.7,267.3 1353.6,267.2 1354.5,267.0 1355.4,266.8 1356.2,266.7 1357.1,266.5 1358.0,266.4 1358.9,266.2 1359.8,266.0 1360.7,265.8 1361.5,265.7 1362.4,265.5 1363.3,265.3 1364.2,265.2 1365.1,265.0 1366.0,264.8 1366.8,264.7 1367.7,264.5 1368.6,264.4 1369.5,264.2 1370.4,264.1 1371.2,263.9 1372.1,263.8 1373.0,263.7 1373.9,263.6 1374.8,263.5 1375.7,263.4 1376.6,263.3 1377.5,263.2 1378.4,263.2 1379.3,263.1 1380.2,263.0 1381.1,262.9 1382.0,262.9 1382.9,262.8 1383.9,262.8 1384.8,262.7 1385.7,262.7 1386.6,262.6 1387.5,262.6 1388.3,262.6 1389.2,262.5 1390.1,262.5 1391.0,262.5 1391.8,262.5 1392.7,262.4 1393.5,262.4 1394.3,262.4 1395.1,262.4 1395.9,262.4 1396.7,262.4 1397.4,262.4 1398.2,262.4 1398.9,262.4 1399.6,262.4 1400.4,262.4 1401.1,262.4 1401.8,262.4 1402.5,262.4 1403.2,262.4 1403.9,262.4 1404.6,262.5 1405.2,262.5 1405.9,262.5 1406.6,262.6 1407.3,262.6 1408.0,262.7 1408.6,262.7 1409.3,262.8 1410.0,262.8 1410.7,262.9 1411.4,262.9 1412.1,263.0 1412.8,263.1 1413.5,263.2 1414.2,263.2 1414.9,263.3 1415.6,263.4 1416.2,263.5 1416.9,263.6 1417.6,263.7 1418.3,263.8 1418.9,263.9 1419.6,264.1 1420.3,264.2 1421.0,264.3 1421.7,264.4 1422.3,264.6 1423.0,264.7 1423.8,264.8 1424.5,264.9 1425.2,265.1 1425.9,265.2 1426.7,265.4 1427.4,265.5 1428.2,265.7 1429.0,265.8 1429.8,266.0 1430.6,266.1 1431.5,266.3 1432.3,266.5 1433.2,266.7 1434.0,266.9 1434.9,267.1 1435.8,267.3 1436.7,267.5 1437.6,267.7 1438.5,267.9 1439.4,268.1 1440.3,268.3 1441.2,268.5 1442.1,268.7 1443.0,268.9 1444.0,269.1 1444.9,269.3 1445.8,269.4 1446.7,269.6 1447.6,269.7 1448.5,269.8 1449.4,269.9 1450.3,270.0 1451.2,270.1 1452.1,270.1 1453.0,270.2 1453.8,270.2 1454.7,270.2 1455.6,270.2 1456.5,270.2 1457.4,270.2 1458.3,270.2 1459.1,270.1 1460.0,270.1 1460.9,270.1 1461.8,270.0 1462.7,270.0 1463.6,269.9 1464.4,269.8 1465.3,269.8 1466.2,269.7 1467.1,269.7 1468.0,269.6 1468.9,269.6 1469.7,269.5 1470.6,269.4 1471.5,269.4 1472.4,269.4 1473.3,269.3 1474.2,269.2 1475.1,269.2 1476.0,269.1 1476.9,269.1 1477.9,269.0 1478.8,268.9 1479.7,268.9 1480.7,268.8 1481.6,268.7 1482.5,268.6 1483.4,268.6 1484.3,268.5 1485.2,268.4 1486.1,268.4 1487.0,268.3 1487.8,268.2 1488.7,268.2 1489.5,268.1 1490.4,268.1 1491.2,268.0 1491.9,267.9 1492.7,267.9 1493.4,267.9 1494.2,267.8 1494.8,267.8 1495.5,267.8 1496.2,267.7 1496.8,267.7 1497.4,267.7 1498.0,267.7 1498.6,267.6 1499.2,267.6 1499.8,267.6 1500.4,267.6 1500.9,267.6 1501.5,267.5 1502.1,267.5 1502.6,267.5 1503.2,267.5 1503.8,267.5 1504.4,267.4 1505.0,267.4 1505.6,267.4 1506.2,267.4 1506.8,267.3 1507.5,267.3 1508.2,267.3 1508.9,267.2 1509.6,267.2 1510.4,267.1 1511.2,267.1 1512.0,267.0 1512.8,267.0 1513.6,266.9 1514.5,266.9 1515.3,266.8 1516.1,266.8 1516.9,266.7 1517.7,266.7 1518.5,266.6 1519.3,266.6 1520.0,266.5 1520.7,266.5 1521.4,266.4 1522.0,266.4 1522.6,266.3 1523.2,266.3 1523.7,266.3 1524.1,266.2 1524.5,266.2 1524.5,273.2 1524.1,273.2 1523.7,273.3 1523.2,273.3 1522.6,273.3 1522.0,273.4 1521.4,273.4 1520.7,273.5 1520.0,273.5 1519.3,273.6 1518.5,273.6 1517.7,273.7 1516.9,273.7 1516.1,273.8 1515.3,273.8 1514.5,273.9 1513.6,273.9 1512.8,274.0 1512.0,274.0 1511.2,274.1 1510.4,274.1 1509.6,274.2 1508.9,274.2 1508.2,274.3 1507.5,274.3 1506.8,274.3 1506.2,274.4 1505.6,274.4 1505.0,274.4 1504.4,274.4 1503.8,274.5 1503.2,274.5 1502.6,274.5 1502.1,274.5 1501.5,274.5 1500.9,274.6 1500.4,274.6 1499.8,274.6 1499.2,274.6 1498.6,274.6 1498.0,274.7 1497.4,274.7 1496.8,274.7 1496.2,274.7 1495.5,274.8 1494.8,274.8 1494.2,274.8 1493.4,274.9 1492.7,274.9 1491.9,274.9 1491.2,275.0 1490.4,275.1 1489.5,275.1 1488.7,275.2 1487.8,275.2 1487.0,275.3 1486.1,275.4 1485.2,275.4 1484.3,275.5 1483.4,275.6 1482.5,275.6 1481.6,275.7 1480.7,275.8 1479.7,275.9 1478.8,275.9 1477.9,276.0 1476.9,276.1 1476.0,276.1 1475.1,276.2 1474.2,276.2 1473.3,276.3 1472.4,276.4 1471.5,276.4 1470.6,276.4 1469.7,276.5 1468.9,276.6 1468.0,276.6 1467.1,276.7 1466.2,276.7 1465.3,276.8 1464.4,276.8 1463.6,276.9 1462.7,277.0 1461.8,277.0 1460.9,277.1 1460.0,277.1 1459.1,277.1 1458.3,277.2 1457.4,277.2 1456.5,277.2 1455.6,277.2 1454.7,277.2 1453.8,277.2 1453.0,277.2 1452.1,277.1 1451.2,277.1 1450.3,277.0 1449.4,276.9 1448.5,276.8 1447.6,276.7 1446.7,276.6 1445.8,276.4 1444.9,276.3 1444.0,276.1 1443.0,275.9 1442.1,275.7 1441.2,275.5 1440.3,275.3 1439.4,275.1 1438.5,274.9 1437.6,274.7 1436.7,274.5 1435.8,274.3 1434.9,274.1 1434.0,273.9 1433.2,273.7 1432.3,273.5 1431.5,273.3 1430.6,273.1 1429.8,273.0 1429.0,272.8 1428.2,272.7 1427.4,272.5 1426.7,272.4 1425.9,272.2 1425.2,272.1 1424.5,271.9 1423.8,271.8 1423.0,271.7 1422.3,271.6 1421.7,271.4 1421.0,271.3 1420.3,271.2 1419.6,271.1 1418.9,270.9 1418.3,270.8 1417.6,270.7 1416.9,270.6 1416.2,270.5 1415.6,270.4 1414.9,270.3 1414.2,270.2 1413.5,270.2 1412.8,270.1 1412.1,270.0 1411.4,269.9 1410.7,269.9 1410.0,269.8 1409.3,269.8 1408.6,269.7 1408.0,269.7 1407.3,269.6 1406.6,269.6 1405.9,269.5 1405.2,269.5 1404.6,269.5 1403.9,269.4 1403.2,269.4 1402.5,269.4 1401.8,269.4 1401.1,269.4 1400.4,269.4 1399.6,269.4 1398.9,269.4 1398.2,269.4 1397.4,269.4 1396.7,269.4 1395.9,269.4 1395.1,269.4 1394.3,269.4 1393.5,269.4 1392.7,269.4 1391.8,269.5 1391.0,269.5 1390.1,269.5 1389.2,269.5 1388.3,269.6 1387.5,269.6 1386.6,269.6 1385.7,269.7 1384.8,269.7 1383.9,269.8 1382.9,269.8 1382.0,269.9 1381.1,269.9 1380.2,270.0 1379.3,270.1 1378.4,270.2 1377.5,270.2 1376.6,270.3 1375.7,270.4 1374.8,270.5 1373.9,270.6 1373.0,270.7 1372.1,270.8 1371.2,270.9 1370.4,271.1 1369.5,271.2 1368.6,271.4 1367.7,271.5 1366.8,271.7 1366.0,271.8 1365.1,272.0 1364.2,272.2 1363.3,272.3 1362.4,272.5 1361.5,272.7 1360.7,272.8 1359.8,273.0 1358.9,273.2 1358.0,273.4 1357.1,273.5 1356.2,273.7 1355.4,273.8 1354.5,274.0 1353.6,274.2 1352.7,274.3 1351.8,274.4 1350.9,274.6 1350.0,274.8 1349.1,274.9 1348.2,275.1 1347.3,275.3 1346.3,275.4 1345.4,275.6 1344.5,275.8 1343.5,275.9 1342.6,276.1 1341.7,276.3 1340.8,276.4 1339.9,276.6 1339.0,276.7 1338.1,276.9 1337.2,277.0 1336.4,277.1 1335.5,277.2 1334.7,277.3 1333.8,277.4 1333.0,277.4 1332.3,277.5 1331.5,277.5 1330.8,277.5 1330.1,277.5 1329.4,277.5 1328.7,277.5 1328.1,277.4 1327.5,277.4 1326.9,277.3 1326.3,277.2 1325.7,277.2 1325.2,277.1 1324.6,277.0 1324.0,276.9 1323.5,276.8 1322.9,276.6 1322.4,276.5 1321.8,276.4 1321.2,276.3 1320.6,276.1 1320.0,276.0 1319.4,275.8 1318.7,275.7 1318.0,275.6 1317.3,275.4 1316.6,275.3 1315.8,275.2 1315.1,275.0 1314.3,274.9 1313.4,274.7 1312.6,274.5 1311.7,274.3 1310.9,274.2 1310.0,274.0 1309.1,273.8 1308.2,273.6 1307.3,273.4 1306.4,273.2 1305.5,273.0 1304.6,272.8 1303.6,272.6 1302.7,272.4 1301.8,272.2 1300.8,272.0 1299.9,271.9 1299.0,271.7 1298.1,271.5 1297.2,271.4 1296.3,271.2 1295.4,271.1 1294.5,271.0 1293.6,270.8 1292.8,270.7 1291.9,270.6 1291.0,270.5 1290.1,270.4 1289.2,270.3 1288.3,270.2 1287.5,270.1 1286.6,270.0 1285.7,269.9 1284.8,269.8 1283.9,269.7 1283.0,269.7 1282.2,269.6 1281.3,269.5 1280.4,269.4 1279.5,269.4 1278.6,269.3 1277.7,269.2 1276.9,269.2 1276.0,269.1 1275.1,269.1 1274.2,269.0 1273.3,268.9 1272.4,268.9 1271.5,268.8 1270.6,268.8 1269.7,268.7 1268.8,268.7 1267.9,268.6 1267.0,268.6 1266.1,268.6 1265.2,268.5 1264.3,268.5 1263.4,268.5 1262.5,268.4 1261.6,268.4 1260.7,268.4 1259.8,268.4 1258.9,268.4 1258.0,268.4 1257.2,268.4 1256.3,268.4 1255.5,268.4 1254.6,268.4 1253.8,268.5 1253.0,268.5 1252.2,268.5 1251.4,268.6 1250.6,268.7 1249.9,268.7 1249.1,268.8 1248.3,268.9 1247.6,269.0 1246.9,269.1 1246.1,269.2 1245.4,269.3 1244.7,269.4 1243.9,269.5 1243.2,269.7 1242.5,269.8 1241.8,269.9 1241.1,270.0 1240.4,270.2 1239.8,270.3 1239.1,270.4 1238.4,270.6 1237.7,270.7 1237.0,270.8 1236.4,271.0 1235.7,271.1 1235.0,271.2 1234.4,271.4 1233.7,271.5 1233.0,271.7 1232.4,271.9 1231.7,272.0 1231.1,272.2 1230.4,272.4 1229.8,272.5 1229.1,272.7 1228.5,272.9 1227.9,273.1 1227.3,273.2 1226.6,273.4 1226.0,273.6 1225.4,273.8 1224.8,273.9 1224.2,274.1 1223.7,274.2 1223.1,274.4 1222.5,274.5 1222.0,274.7 1221.4,274.8 1220.9,274.9 1220.4,275.0 1219.9,275.1 1219.4,275.2 1218.9,275.3 1218.5,275.4 1218.0,275.5 1217.6,275.6 1217.1,275.6 1216.7,275.7 1216.3,275.8 1215.9,275.8 1215.5,275.9 1215.1,275.9 1214.7,276.0 1214.3,276.0 1213.8,276.1 1213.4,276.1 1213.0,276.2 1212.6,276.2 1212.1,276.3 1211.7,276.3 1211.2,276.3 1210.8,276.4 1210.3,276.4 1209.8,276.4 1209.3,276.5 1208.8,276.5 1208.3,276.5 1207.8,276.6 1207.3,276.6 1206.8,276.7 1206.3,276.7 1205.7,276.7 1205.2,276.8 1204.7,276.8 1204.2,276.8 1203.6,276.8 1203.1,276.9 1202.5,276.9 1202.0,276.8 1201.4,276.8 1200.9,276.8 1200.3,276.8 1199.8,276.7 1199.2,276.7 1198.6,276.6 1198.1,276.5 1197.5,276.4 1196.9,276.3 1196.4,276.1 1195.8,276.0 1195.2,275.8 1194.7,275.6 1194.1,275.4 1193.5,275.1 1193.0,274.9 1192.4,274.7 1191.8,274.4 1191.2,274.1 1190.6,273.9 1190.0,273.6 1189.4,273.3 1188.8,273.1 1188.2,272.8 1187.5,272.6 1186.9,272.3 1186.2,272.1 1185.6,271.9 1184.9,271.6 1184.2,271.4 1183.4,271.3 1182.7,271.1 1181.9,271.0 1181.1,270.8 1180.3,270.7 1179.5,270.6 1178.6,270.5 1177.7,270.4 1176.8,270.3 1175.9,270.2 1174.9,270.1 1174.0,270.0 1173.1,270.0 1172.1,269.9 1171.2,269.8 1170.2,269.7 1169.3,269.7 1168.3,269.6 1167.4,269.6 1166.5,269.5 1165.6,269.4 1164.7,269.3 1163.9,269.3 1163.1,269.2 1162.3,269.1 1161.5,269.0 1160.8,268.9 1160.0,268.8 1159.3,268.7 1158.6,268.6 1157.9,268.5 1157.2,268.3 1156.6,268.2 1155.9,268.1 1155.3,268.0 1154.6,267.9 1154.0,267.7 1153.4,267.6 1152.8,267.5 1152.2,267.4 1151.6,267.3 1151.0,267.1 1150.4,267.0 1149.9,266.9 1149.3,266.8 1148.8,266.7 1148.2,266.6 1147.7,266.5 1147.1,266.5 1146.6,266.4 1146.1,266.3 1145.6,266.3 1145.1,266.2 1144.7,266.1 1144.2,266.1 1143.8,266.0 1143.4,265.9 1143.0,265.9 1142.6,265.8 1142.2,265.8 1141.8,265.7 1141.4,265.7 1141.0,265.6 1140.7,265.6 1140.3,265.6 1139.8,265.6 1139.4,265.6 1139.0,265.6 1138.6,265.6 1138.1,265.6 1137.6,265.6 1137.1,265.7 1136.6,265.7 1136.0,265.8 1135.4,265.9 1134.8,266.0 1134.2,266.1 1133.6,266.2 1132.9,266.3 1132.3,266.5 1131.6,266.6 1131.0,266.8 1130.3,267.0 1129.6,267.2 1128.9,267.3 1128.2,267.5 1127.4,267.7 1126.7,267.9 1126.0,268.1 1125.2,268.3 1124.5,268.5 1123.7,268.8 1122.9,269.0 1122.1,269.2 1121.4,269.4 1120.6,269.6 1119.8,269.8 1119.0,270.0 1118.2,270.2 1117.4,270.4 1116.5,270.6 1115.7,270.9 1114.8,271.1 1114.0,271.3 1113.1,271.5 1112.2,271.8 1111.3,272.0 1110.4,272.3 1109.5,272.5 1108.6,272.8 1107.7,273.0 1106.8,273.2 1105.8,273.5 1104.9,273.7 1104.0,273.9 1103.1,274.1 1102.2,274.4 1101.3,274.6 1100.5,274.8 1099.6,274.9 1098.7,275.1 1097.9,275.3 1097.1,275.5 1096.2,275.6 1095.4,275.8 1094.6,275.9 1093.8,276.1 1092.9,276.2 1092.1,276.3 1091.3,276.4 1090.5,276.6 1089.7,276.7 1088.9,276.8 1088.1,276.9 1087.3,277.0 1086.5,277.1 1085.7,277.2 1084.9,277.3 1084.2,277.4 1083.4,277.5 1082.6,277.5 1081.8,277.6 1081.1,277.7 1080.3,277.8 1079.6,277.8 1078.8,277.9 1078.0,278.0 1077.3,278.0 1076.5,278.1 1075.8,278.2 1075.0,278.2 1074.3,278.3 1073.6,278.3 1072.8,278.4 1072.1,278.4 1071.4,278.5 1070.6,278.5 1069.9,278.6 1069.2,278.6 1068.5,278.6 1067.8,278.6 1067.1,278.7 1066.4,278.7 1065.7,278.7 1065.0,278.7 1064.4,278.6 1063.7,278.6 1063.1,278.6 1062.4,278.5 1061.8,278.5 1061.2,278.4 1060.6,278.4 1060.0,278.3 1059.4,278.2 1058.9,278.1 1058.3,278.1 1057.8,278.0 1057.2,277.8 1056.7,277.7 1056.2,277.6 1055.6,277.5 1055.1,277.4 1054.6,277.2 1054.1,277.1 1053.6,276.9 1053.1,276.8 1052.6,276.6 1052.1,276.4 1051.6,276.3 1051.1,276.1 1050.6,275.9 1050.0,275.7 1049.5,275.5 1049.0,275.3 1048.5,275.1 1047.9,274.8 1047.4,274.6 1046.9,274.3 1046.4,274.1 1045.8,273.8 1045.3,273.5 1044.8,273.2 1044.3,272.9 1043.7,272.5 1043.2,272.2 1042.7,271.9 1042.2,271.6 1041.7,271.3 1041.1,270.9 1040.6,270.6 1040.1,270.3 1039.6,270.0 1039.0,269.7 1038.5,269.5 1038.0,269.2 1037.5,269.0 1036.9,268.7 1036.4,268.5 1035.9,268.3 1035.4,268.1 1034.9,267.9 1034.4,267.7 1034.0,267.5 1033.5,267.4 1033.1,267.2 1032.6,267.0 1032.2,266.9 1031.7,266.7 1031.3,266.6 1030.8,266.4 1030.3,266.3 1029.8,266.2 1029.3,266.1 1028.8,266.0 1028.3,265.9 1027.7,265.8 1027.1,265.7 1026.5,265.6 1025.8,265.5 1025.1,265.4 1024.4,265.4 1023.6,265.3 1022.8,265.2 1021.9,265.2 1021.0,265.2 1020.0,265.1 1019.0,265.1 1017.9,265.1 1016.9,265.1 1015.8,265.1 1014.6,265.1 1013.5,265.1 1012.3,265.2 1011.2,265.2 1010.0,265.2 1008.8,265.2 1007.7,265.3 1006.5,265.3 1005.4,265.4 1004.3,265.4 1003.2,265.5 1002.1,265.5 1001.1,265.6 1000.1,265.7 999.1,265.7 998.2,265.8 997.3,265.9 996.5,266.0 995.7,266.1 994.9,266.2 994.2,266.3 993.4,266.4 992.7,266.5 992.0,266.6 991.3,266.8 990.6,266.9 990.0,267.1 989.3,267.2 988.7,267.3 988.0,267.5 987.4,267.6 986.7,267.7 986.1,267.9 985.4,268.0 984.8,268.1 984.1,268.2 983.4,268.3 982.7,268.4 981.9,268.4 981.2,268.5 980.4,268.5 979.6,268.6 978.8,268.6 978.0,268.6 977.1,268.6 976.3,268.6 975.4,268.6 974.5,268.6 973.6,268.6 972.7,268.5 971.9,268.5 971.0,268.5 970.1,268.4 969.2,268.4 968.4,268.4 967.6,268.3 966.7,268.3 966.0,268.3 965.2,268.2 964.4,268.2 963.7,268.2 963.0,268.2 962.4,268.2 961.8,268.2 961.2,268.2 960.7,268.2 960.2,268.2 959.7,268.2 959.3,268.2 958.8,268.2 958.4,268.2 958.1,268.3 957.7,268.3 957.3,268.3 957.0,268.3 956.7,268.3 956.4,268.3 956.1,268.4 955.8,268.4 955.5,268.4 955.2,268.5 954.9,268.5 954.6,268.6 954.3,268.7 954.0,268.7 953.7,268.8 953.4,268.9 953.1,269.0 952.8,269.1 952.5,269.2 952.1,269.3 951.8,269.4 951.5,269.5 951.2,269.7 951.0,269.8 950.7,269.9 950.4,270.0 950.1,270.2 949.8,270.3 949.5,270.5 949.3,270.6 949.0,270.8 948.7,271.0 948.4,271.2 948.1,271.4 947.8,271.6 947.5,271.9 947.2,272.1 946.8,272.4 946.5,272.7 946.2,273.0 945.8,273.3 945.4,273.6 945.0,274.0 944.7,274.4 944.2,274.8 943.8,275.3 943.4,275.7 943.0,276.2 942.5,276.7 942.1,277.1 941.6,277.7 941.2,278.2 940.8,278.7 940.3,279.2 939.9,279.8 939.4,280.3 939.0,280.8 938.5,281.4 938.1,281.9 937.7,282.4 937.3,283.0 936.8,283.5 936.5,284.0 936.1,284.5 935.7,285.0 935.3,285.5 935.0,286.0 934.6,286.5 934.3,287.0 933.9,287.5 933.6,288.0 933.3,288.6 933.0,289.1 932.6,289.6 932.3,290.1 932.0,290.7 931.7,291.2 931.4,291.7 931.1,292.2 930.8,292.7 930.5,293.2 930.2,293.6 930.0,294.1 929.7,294.6 929.4,295.0 929.2,295.4 928.9,295.8 928.6,296.2 928.4,296.6 928.2,297.0 927.9,297.3 927.7,297.6 927.5,298.0 927.3,298.3 927.1,298.6 926.9,298.8 926.7,299.1 926.5,299.4 926.3,299.6 926.1,299.9 925.9,300.1 925.8,300.4 925.6,300.6 925.4,300.8 925.2,301.0 925.1,301.2 924.9,301.4 924.8,301.6 924.6,301.7 924.5,301.9 924.3,302.1 924.2,302.2 924.0,302.4 923.9,302.6 923.7,302.7 923.6,302.9 923.4,303.0 923.3,303.1 923.2,303.3 923.1,303.4 922.9,303.5 922.8,303.7 922.7,303.8 922.6,303.9 922.5,304.0 922.4,304.0 922.3,304.1 922.2,304.2 922.1,304.2 922.0,304.2 921.8,304.2 921.7,304.2 921.6,304.2 921.5,304.2 921.4,304.1 921.2,304.0 921.1,303.9 921.0,303.8 920.8,303.6 920.7,303.5 920.5,303.3 920.4,303.1 920.2,302.9 920.1,302.7 919.9,302.4 919.8,302.2 919.6,301.9 919.5,301.6 919.3,301.3 919.1,301.0 919.0,300.7 918.8,300.4 918.7,300.0 918.5,299.6 918.4,299.2 918.2,298.8 918.1,298.4 917.9,298.0 917.8,297.5 917.6,297.1 917.5,296.6 917.4,296.1 917.2,295.6 917.1,295.0 917.0,294.4 916.8,293.8 916.7,293.2 916.6,292.5 916.5,291.9 916.3,291.2 916.2,290.5 916.1,289.8 916.0,289.1 915.8,288.3 915.7,287.6 915.6,286.9 915.5,286.1 915.4,285.4 915.3,284.7 915.1,284.0 915.0,283.3 914.9,282.6 914.8,281.9 914.7,281.2 914.6,280.6 914.5,280.0 914.4,279.3 914.3,278.7 914.2,278.1 914.1,277.5 914.0,276.9 913.9,276.3 913.8,275.7 913.8,275.1 913.7,274.5 913.6,273.9 913.5,273.3 913.4,272.7 913.3,272.1 913.2,271.5 913.2,270.9 913.1,270.3 913.0,269.7 912.9,269.1 912.8,268.5 912.7,267.9 912.6,267.3 912.5,266.7 912.4,266.1 912.3,265.5 912.2,264.9 912.1,264.3 912.0,263.7 911.8,263.1 911.7,262.6 911.6,262.0 911.5,261.4 911.4,260.8 911.2,260.2 911.1,259.7 911.0,259.1 910.9,258.5 910.7,257.9 910.6,257.3 910.5,256.7 910.4,256.1 910.2,255.5 910.1,254.8 910.0,254.2 909.9,253.5 909.7,252.9 909.6,252.2 909.5,251.5 909.4,250.8 909.3,250.0 909.1,249.3 909.0,248.4 908.9,247.6 908.7,246.8 908.6,245.9 908.5,245.0 908.4,244.2 908.2,243.3 908.1,242.4 908.0,241.5 907.8,240.6 907.7,239.8 907.6,238.9 907.5,238.1 907.3,237.3 907.2,236.5 907.1,235.8 907.0,235.0 906.9,234.4 906.8,233.7 906.7,233.1 906.6,232.6 906.5,232.1 906.4,231.7 906.4,231.3 906.3,230.9 906.2,230.6 906.2,230.3 906.1,230.0 906.0,229.8 906.0,229.5 905.9,229.3 905.9,229.1 905.9,229.0 905.8,228.8 905.8,228.7 905.7,228.5 905.7,228.4 905.6,228.2 905.5,228.0 905.5,227.9 905.4,227.7 905.3,227.5 905.3,227.3 905.2,227.1 905.1,226.8 905.0,226.5 904.9,226.2 904.8,225.9 904.7,225.6 904.6,225.3 904.5,225.0 904.4,224.7 904.3,224.3 904.2,224.0 904.1,223.7 904.0,223.3 903.9,223.0 903.8,222.7 903.6,222.4 903.5,222.0 903.4,221.7 903.2,221.4 903.1,221.1 903.0,220.8 902.8,220.5 902.7,220.2 902.5,220.0 902.4,219.7 902.2,219.5 902.0,219.3 901.9,219.1 901.7,218.8 901.5,218.6 901.3,218.4 901.1,218.2 901.0,218.0 900.8,217.8 900.6,217.6 900.4,217.4 900.2,217.3 900.0,217.1 899.8,217.0 899.5,216.8 899.3,216.7 899.1,216.5 898.9,216.4 898.6,216.3 898.4,216.2 898.1,216.1 897.9,216.1 897.6,216.0 897.4,215.9 897.1,215.9 896.8,215.9 896.5,215.9 896.3,215.9 896.0,215.9 895.7,216.0 895.4,216.1 895.1,216.2 894.8,216.3 894.5,216.4 894.2,216.5 893.8,216.6 893.5,216.7 893.2,216.9 892.8,217.0 892.5,217.1 892.1,217.2 891.8,217.4 891.4,217.5 891.1,217.6 890.7,217.7 890.3,217.8 889.9,217.9 889.5,217.9 889.1,218.0 888.7,218.0 888.3,218.1 887.8,218.1 887.3,218.2 886.9,218.2 886.4,218.2 885.9,218.3 885.4,218.3 884.9,218.3 884.4,218.3 883.9,218.3 883.4,218.3 882.8,218.3 882.3,218.3 881.8,218.3 881.3,218.3 880.8,218.3 880.3,218.3 879.8,218.2 879.3,218.2 878.8,218.2 878.4,218.1 877.9,218.1 877.5,218.0 877.1,217.9 876.7,217.8 876.3,217.7 875.8,217.6 875.4,217.5 875.1,217.3 874.7,217.2 874.3,217.0 873.9,216.9 873.5,216.7 873.2,216.5 872.8,216.4 872.4,216.2 872.1,216.0 871.7,215.9 871.4,215.7 871.0,215.6 870.7,215.4 870.3,215.3 870.0,215.2 869.7,215.1 869.4,215.0 869.0,214.9 868.7,214.8 868.4,214.7 868.1,214.7 867.8,214.7 867.5,214.6 867.2,214.6 866.9,214.6 866.6,214.6 866.3,214.6 866.0,214.6 865.8,214.7 865.5,214.7 865.2,214.7 865.0,214.7 864.7,214.8 864.4,214.8 864.2,214.8 863.9,214.9 863.6,214.9 863.4,215.0 863.1,215.0 862.8,215.0 862.6,215.1 862.3,215.1 862.0,215.1 861.7,215.1 861.4,215.1 861.2,215.2 860.9,215.2 860.6,215.2 860.3,215.2 860.0,215.2 859.7,215.3 859.4,215.3 859.1,215.3 858.9,215.3 858.6,215.4 858.3,215.4 858.0,215.4 857.7,215.4 857.4,215.5 857.1,215.5 856.9,215.5 856.6,215.6 856.3,215.6 856.0,215.6 855.7,215.6 855.5,215.7 855.2,215.7 854.9,215.7 854.7,215.8 854.4,215.8 854.1,215.8 853.9,215.8 853.6,215.9 853.3,215.9 853.1,215.9 852.8,216.0 852.6,216.0 852.3,216.0 852.1,216.1 851.8,216.1 851.5,216.1 851.3,216.2 851.0,216.2 850.8,216.2 850.5,216.3 850.3,216.3 850.0,216.3 849.8,216.4 849.5,216.4 849.3,216.5 849.0,216.5 848.7,216.5 848.5,216.6 848.2,216.6 848.0,216.7 847.7,216.7 847.4,216.8 847.2,216.8 846.9,216.9 846.7,216.9 846.4,217.0 846.1,217.0 845.9,217.1 845.6,217.1 845.4,217.2 845.1,217.2 844.9,217.3 844.6,217.3 844.4,217.4 844.1,217.5 843.9,217.5 843.7,217.6 843.4,217.7 843.2,217.7 843.0,217.8 842.8,217.9 842.6,217.9 842.4,218.0 842.2,218.1 842.0,218.2 841.8,218.3 841.6,218.4 841.4,218.5 841.3,218.6 841.1,218.7 840.9,218.7 840.8,218.8 840.6,218.9 840.4,219.0 840.3,219.1 840.1,219.2 839.9,219.3 839.8,219.4 839.6,219.5 839.5,219.6 839.3,219.7 839.1,219.7 839.0,219.8 838.8,219.9 838.6,220.0 838.5,220.1 838.3,220.1 838.1,220.2 838.0,220.3 837.8,220.4 837.7,220.4 837.5,220.5 837.3,220.6 837.2,220.7 837.0,220.8 836.9,220.8 836.7,220.9 836.5,221.0 836.4,221.0 836.2,221.1 836.1,221.1 835.9,221.2 835.8,221.2 835.6,221.2 835.5,221.3 835.4,221.3 835.2,221.3 835.1,221.3 835.0,221.3 834.8,221.3 834.7,221.2 834.6,221.2 834.5,221.1 834.4,221.1 834.3,221.0 834.2,220.9 834.1,220.9 834.0,220.8 833.9,220.7 833.8,220.6 833.7,220.5 833.6,220.4 833.5,220.3 833.4,220.2 833.3,220.2 833.2,220.1 833.1,220.0 833.0,219.9 832.8,219.9 832.7,219.8 832.6,219.7 832.5,219.7 832.4,219.7 832.3,219.6 832.1,219.6 832.0,219.6 831.9,219.5 831.7,219.5 831.6,219.5 831.4,219.4 831.3,219.4 831.2,219.4 831.0,219.4 830.9,219.3 830.7,219.3 830.6,219.3 830.5,219.3 830.3,219.3 830.2,219.3 830.1,219.3 829.9,219.3 829.8,219.4 829.7,219.4 829.5,219.4 829.4,219.5 829.3,219.5 829.2,219.6 829.1,219.6 829.0,219.7 828.9,219.7 828.8,219.8 828.7,219.9 828.6,220.0 828.5,220.0 828.4,220.1 828.3,220.2 828.2,220.3 828.1,220.4 828.0,220.5 827.9,220.6 827.8,220.8 827.7,220.9 827.6,221.0 827.5,221.1 827.4,221.3 827.4,221.4 827.3,221.5 827.2,221.7 827.1,221.8 827.0,222.0 826.9,222.2 826.8,222.3 826.7,222.5 826.7,222.6 826.6,222.8 826.5,223.0 826.4,223.1 826.3,223.3 826.3,223.5 826.2,223.7 826.1,223.8 826.0,224.0 825.9,224.2 825.9,224.4 825.8,224.6 825.7,224.9 825.6,225.1 825.5,225.3 825.5,225.6 825.4,225.8 825.3,226.1 825.2,226.4 825.1,226.7 825.0,227.0 824.9,227.3 824.8,227.6 824.7,228.0 824.6,228.3 824.5,228.7 824.4,229.0 824.3,229.4 824.2,229.8 824.1,230.2 824.0,230.6 823.9,231.0 823.8,231.4 823.7,231.8 823.5,232.2 823.4,232.7 823.3,233.1 823.2,233.6 823.1,234.1 823.0,234.5 822.9,235.0 822.8,235.5 822.6,236.0 822.5,236.5 822.4,237.0 822.3,237.5 822.2,238.0 822.0,238.5 821.9,239.0 821.8,239.6 821.7,240.1 821.6,240.6 821.5,241.1 821.3,241.7 821.2,242.2 821.1,242.8 821.0,243.4 820.8,243.9 820.7,244.5 820.6,245.2 820.5,245.8 820.3,246.5 820.2,247.1 820.0,247.8 819.9,248.5 819.8,249.3 819.6,250.1 819.5,250.9 819.3,251.7 819.1,252.6 819.0,253.5 818.8,254.4 818.6,255.4 818.5,256.5 818.3,257.5 818.1,258.6 817.9,259.7 817.7,260.8 817.5,262.0 817.3,263.1 817.1,264.3 816.9,265.4 816.8,266.6 816.6,267.8 816.4,268.9 816.2,270.1 816.0,271.2 815.8,272.3 815.6,273.4 815.4,274.5 815.2,275.6 815.0,276.6 814.8,277.6 814.6,278.6 814.4,279.6 814.2,280.5 814.0,281.5 813.8,282.5 813.6,283.5 813.4,284.5 813.2,285.5 813.0,286.4 812.8,287.4 812.6,288.3 812.4,289.2 812.3,290.1 812.1,291.0 811.9,291.9 811.7,292.7 811.5,293.6 811.3,294.4 811.1,295.1 810.9,295.9 810.7,296.6 810.6,297.3 810.4,297.9 810.2,298.5 810.0,299.1 809.9,299.6 809.7,300.2 809.6,300.7 809.4,301.2 809.3,301.6 809.2,302.1 809.0,302.5 808.9,302.9 808.8,303.2 808.6,303.6 808.5,303.9 808.4,304.2 808.2,304.5 808.1,304.7 807.9,304.9 807.8,305.1 807.6,305.2 807.5,305.4 807.3,305.5 807.1,305.5 806.9,305.5 806.7,305.5 806.5,305.5 806.3,305.4 806.0,305.3 805.8,305.1 805.6,304.9 805.3,304.7 805.1,304.4 804.8,304.1 804.5,303.7 804.2,303.4 804.0,303.0 803.7,302.5 803.4,302.1 803.1,301.6 802.8,301.1 802.5,300.6 802.2,300.1 801.9,299.6 801.6,299.1 801.2,298.6 800.9,298.0 800.6,297.5 800.3,296.9 799.9,296.4 799.6,295.9 799.3,295.4 798.9,294.8 798.6,294.2 798.2,293.6 797.9,293.0 797.5,292.4 797.1,291.7 796.8,291.0 796.4,290.3 796.0,289.7 795.6,289.0 795.2,288.3 794.8,287.6 794.4,286.9 794.1,286.2 793.7,285.5 793.3,284.9 792.9,284.2 792.4,283.6 792.0,283.0 791.6,282.4 791.2,281.8 790.8,281.2 790.4,280.7 790.0,280.2 789.6,279.7 789.1,279.2 788.7,278.7 788.3,278.3 787.9,277.8 787.4,277.4 787.0,276.9 786.5,276.5 786.1,276.1 785.6,275.7 785.2,275.3 784.7,274.9 784.3,274.6 783.8,274.2 783.4,273.9 782.9,273.5 782.5,273.2 782.0,272.9 781.6,272.6 781.1,272.3 780.7,272.0 780.2,271.8 779.8,271.5 779.4,271.3 778.9,271.0 778.5,270.8 778.0,270.6 777.5,270.5 777.1,270.3 776.6,270.1 776.2,270.0 775.7,269.9 775.3,269.7 774.8,269.6 774.4,269.5 773.9,269.4 773.4,269.3 773.0,269.3 772.6,269.2 772.1,269.1 771.7,269.1 771.2,269.0 770.8,269.0 770.4,268.9 769.9,268.9 769.5,268.8 769.1,268.8 768.7,268.8 768.3,268.7 767.9,268.7 767.5,268.7 767.1,268.8 766.8,268.8 766.4,268.8 766.0,268.8 765.7,268.9 765.3,268.9 764.9,269.0 764.6,269.0 764.2,269.1 763.8,269.1 763.5,269.2 763.1,269.3 762.7,269.3 762.4,269.4 762.0,269.5 761.6,269.5 761.2,269.6 760.8,269.6 760.4,269.7 760.0,269.7 759.6,269.7 759.2,269.8 758.7,269.8 758.3,269.9 757.9,270.0 757.4,270.0 757.0,270.1 756.5,270.1 756.1,270.2 755.6,270.3 755.2,270.3 754.7,270.4 754.3,270.4 753.8,270.5 753.3,270.5 752.9,270.6 752.4,270.6 751.9,270.6 751.4,270.6 751.0,270.6 750.5,270.6 750.0,270.6 749.5,270.6 749.0,270.5 748.5,270.4 748.0,270.3 747.5,270.2 747.0,270.1 746.5,269.9 746.0,269.8 745.5,269.6 745.0,269.4 744.5,269.2 743.9,269.0 743.4,268.8 742.9,268.6 742.4,268.4 741.8,268.2 741.3,268.0 740.8,267.8 740.2,267.7 739.7,267.5 739.1,267.3 738.6,267.2 738.0,267.1 737.4,267.0 736.9,266.9 736.3,266.8 735.7,266.8 735.2,266.7 734.6,266.7 734.0,266.7 733.5,266.8 732.9,266.8 732.3,266.8 731.8,266.9 731.2,267.0 730.6,267.0 730.0,267.1 729.4,267.2 728.8,267.3 728.2,267.4 727.6,267.4 727.0,267.5 726.3,267.6 725.7,267.7 725.0,267.7 724.4,267.8 723.7,267.8 723.0,267.9 722.2,267.9 721.5,267.9 720.7,267.9 719.9,267.9 719.1,267.8 718.3,267.8 717.4,267.7 716.5,267.6 715.6,267.5 714.7,267.5 713.7,267.4 712.8,267.3 711.9,267.2 710.9,267.1 710.0,267.0 709.0,266.9 708.1,266.8 707.1,266.8 706.2,266.7 705.3,266.7 704.4,266.6 703.5,266.6 702.7,266.6 701.9,266.7 701.1,266.7 700.3,266.8 699.6,266.9 698.8,267.0 698.1,267.2 697.5,267.3 696.8,267.5 696.2,267.7 695.6,267.9 694.9,268.1 694.3,268.4 693.7,268.6 693.2,268.9 692.6,269.1 692.0,269.4 691.4,269.6 690.9,269.9 690.3,270.2 689.7,270.4 689.1,270.7 688.5,271.0 687.9,271.2 687.3,271.4 686.7,271.7 686.1,271.9 685.4,272.1 684.7,272.3 684.1,272.5 683.4,272.7 682.7,272.9 682.1,273.1 681.4,273.3 680.7,273.6 680.1,273.8 679.4,274.0 678.7,274.2 678.0,274.4 677.3,274.6 676.6,274.8 675.9,275.0 675.2,275.1 674.5,275.3 673.8,275.5 673.1,275.7 672.3,275.8 671.6,275.9 670.8,276.1 670.1,276.2 669.3,276.3 668.5,276.4 667.7,276.5 666.9,276.6 666.0,276.6 665.2,276.7 664.3,276.8 663.4,276.8 662.5,276.8 661.6,276.9 660.7,276.9 659.8,276.9 658.8,276.9 657.9,276.9 657.0,276.9 656.1,276.9 655.1,276.9 654.2,276.9 653.3,276.8 652.4,276.8 651.5,276.8 650.6,276.7 649.8,276.6 648.9,276.6 648.1,276.5 647.3,276.4 646.5,276.3 645.7,276.2 645.0,276.1 644.2,275.9 643.5,275.8 642.8,275.6 642.1,275.4 641.4,275.3 640.7,275.1 640.0,274.9 639.3,274.7 638.7,274.5 638.0,274.3 637.3,274.1 636.6,273.9 636.0,273.6 635.3,273.4 634.6,273.2 633.9,273.0 633.2,272.8 632.5,272.6 631.8,272.4 631.0,272.3 630.3,272.1 629.5,271.9 628.8,271.8 628.0,271.6 627.2,271.4 626.3,271.3 625.5,271.1 624.7,270.9 623.9,270.8 623.0,270.6 622.2,270.4 621.3,270.3 620.5,270.1 619.6,269.9 618.8,269.8 618.0,269.6 617.2,269.5 616.4,269.3 615.6,269.2 614.8,269.1 614.0,268.9 613.3,268.8 612.6,268.7 611.9,268.6 611.2,268.5 610.6,268.4 609.9,268.3 609.4,268.2 608.8,268.2 608.3,268.1 607.8,268.0 607.3,268.0 606.8,267.9 606.3,267.9 605.9,267.8 605.4,267.8 605.0,267.8 604.5,267.7 604.1,267.7 603.6,267.7 603.1,267.6 602.6,267.6 602.1,267.6 601.6,267.6 601.0,267.6 600.5,267.5 599.8,267.5 599.2,267.5 598.5,267.5 597.8,267.5 597.0,267.5 596.3,267.4 595.5,267.4 594.7,267.4 593.9,267.4 593.1,267.4 592.2,267.3 591.4,267.3 590.5,267.3 589.6,267.3 588.7,267.3 587.8,267.3 586.9,267.3 585.9,267.3 585.0,267.4 584.1,267.4 583.1,267.4 582.1,267.5 581.2,267.5 580.2,267.6 579.2,267.7 578.3,267.8 577.3,267.9 576.3,268.0 575.3,268.2 574.3,268.3 573.2,268.5 572.2,268.7 571.1,268.9 570.0,269.1 568.9,269.3 567.8,269.6 566.7,269.8 565.5,270.1 564.4,270.3 563.3,270.6 562.2,270.8 561.1,271.1 560.0,271.3 558.9,271.6 557.8,271.8 556.8,272.1 555.7,272.3 554.7,272.6 553.7,272.8 552.7,273.0 551.8,273.2 550.9,273.4 550.0,273.6 549.1,273.8 548.2,274.0 547.3,274.2 546.4,274.5 545.6,274.7 544.7,274.9 543.9,275.1 543.1,275.3 542.3,275.5 541.4,275.7 540.7,275.9 539.9,276.1 539.1,276.3 538.4,276.5 537.6,276.6 536.9,276.8 536.2,276.9 535.4,277.1 534.7,277.2 534.0,277.3 533.4,277.4 532.7,277.5 532.0,277.6 531.4,277.6 530.8,277.7 530.2,277.7 529.6,277.7 529.1,277.7 528.5,277.7 528.0,277.7 527.4,277.7 526.9,277.7 526.4,277.7 525.9,277.6 525.4,277.6 524.9,277.5 524.4,277.5 523.9,277.4 523.5,277.4 523.0,277.3 522.5,277.3 522.0,277.2 521.5,277.2 521.0,277.1 520.5,277.0 520.0,277.0 519.5,277.0 519.0,276.9 518.5,276.9 518.1,276.8 517.6,276.8 517.2,276.7 516.7,276.7 516.3,276.6 515.8,276.5 515.4,276.5 515.0,276.4 514.5,276.4 514.1,276.3 513.6,276.2 513.1,276.1 512.6,276.1 512.1,276.0 511.6,275.9 511.1,275.8 510.5,275.7 509.9,275.6 509.3,275.5 508.7,275.4 508.0,275.3 507.3,275.2 506.6,275.1 505.8,274.9 505.0,274.8 504.2,274.6 503.4,274.5 502.5,274.4 501.7,274.2 500.8,274.0 499.9,273.9 499.0,273.7 498.1,273.5 497.2,273.4 496.2,273.2 495.3,273.0 494.4,272.9 493.4,272.7 492.5,272.5 491.5,272.3 490.6,272.2 489.7,272.0 488.8,271.8 487.9,271.7 487.0,271.5 486.1,271.3 485.2,271.1 484.4,271.0 483.5,270.8 482.6,270.5 481.7,270.3 480.8,270.1 479.9,269.9 479.0,269.7 478.1,269.5 477.3,269.2 476.4,269.0 475.5,268.8 474.6,268.6 473.7,268.5 472.8,268.3 471.9,268.1 471.0,268.0 470.1,267.8 469.2,267.7 468.4,267.6 467.5,267.6 466.6,267.5 465.7,267.5 464.8,267.5 463.9,267.5 463.0,267.6 462.2,267.7 461.3,267.8 460.4,267.9 459.5,268.0 458.6,268.2 457.8,268.4 456.9,268.5 456.0,268.7 455.1,268.9 454.2,269.1 453.3,269.3 452.5,269.5 451.6,269.7 450.7,269.9 449.8,270.1 448.9,270.3 448.0,270.5 447.2,270.7 446.3,270.8 445.4,271.0 444.5,271.1 443.6,271.2 442.7,271.3 441.8,271.4 440.9,271.5 439.9,271.6 439.0,271.7 438.0,271.8 437.1,271.9 436.2,272.0 435.2,272.1 434.3,272.1 433.3,272.2 432.4,272.3 431.5,272.4 430.6,272.4 429.7,272.5 428.8,272.6 427.9,272.7 427.0,272.8 426.2,272.8 425.4,272.9 424.5,273.0 423.8,273.1 423.0,273.2 422.3,273.3 421.6,273.4 420.9,273.5 420.2,273.6 419.6,273.8 418.9,273.9 418.3,274.0 417.7,274.1 417.2,274.3 416.6,274.4 416.0,274.5 415.5,274.7 414.9,274.8 414.4,274.9 413.8,275.0 413.3,275.1 412.7,275.2 412.1,275.3 411.6,275.4 411.0,275.5 410.4,275.6 409.8,275.6 409.1,275.7 408.5,275.7 407.8,275.7 407.2,275.7 406.5,275.7 405.9,275.7 405.2,275.7 404.5,275.6 403.9,275.6 403.2,275.5 402.5,275.4 401.8,275.4 401.1,275.3 400.4,275.2 399.7,275.1 399.0,275.1 398.3,275.0 397.6,274.9 396.9,274.8 396.1,274.7 395.4,274.6 394.6,274.6 393.9,274.5 393.1,274.4 392.3,274.4 391.5,274.3 390.7,274.2 389.8,274.2 389.0,274.2 388.1,274.1 387.2,274.1 386.3,274.0 385.4,274.0 384.4,273.9 383.5,273.9 382.5,273.9 381.6,273.8 380.6,273.8 379.7,273.8 378.7,273.7 377.8,273.7 376.9,273.6 375.9,273.6 375.0,273.5 374.1,273.5 373.3,273.4 372.4,273.4 371.6,273.3 370.8,273.3 370.0,273.2 369.3,273.1 368.5,273.1 367.8,273.0 367.2,272.9 366.5,272.8 365.9,272.7 365.3,272.6 364.7,272.6 364.1,272.5 363.5,272.4 362.9,272.3 362.3,272.2 361.8,272.1 361.2,272.0 360.6,271.9 360.1,271.8 359.5,271.7 358.9,271.6 358.3,271.5 357.7,271.4 357.0,271.3 356.4,271.3 355.7,271.2 355.0,271.1 354.3,271.0 353.6,270.9 352.8,270.8 352.1,270.8 351.3,270.7 350.5,270.6 349.8,270.5 349.0,270.4 348.2,270.3 347.4,270.2 346.6,270.1 345.8,270.0 344.9,269.9 344.1,269.8 343.3,269.8 342.5,269.7 341.7,269.6 340.8,269.6 340.0,269.6 339.2,269.5 338.4,269.5 337.6,269.5 336.8,269.5 336.0,269.5 335.2,269.5 334.4,269.6 333.6,269.6 332.9,269.7 332.1,269.8 331.3,269.9 330.5,270.0 329.7,270.2 329.0,270.3 328.2,270.4 327.4,270.6 326.6,270.7 325.8,270.8 325.1,271.0 324.3,271.1 323.5,271.3 322.7,271.4 321.9,271.5 321.1,271.7 320.3,271.8 319.5,271.9 318.7,272.0 317.8,272.0 317.0,272.1 316.2,272.1 315.3,272.2 314.4,272.2 313.5,272.3 312.7,272.3 311.8,272.3 310.8,272.3 309.9,272.3 309.0,272.3 308.1,272.3 307.2,272.3 306.2,272.3 305.3,272.2 304.4,272.2 303.5,272.2 302.6,272.2 301.7,272.2 300.9,272.2 300.0,272.1 299.2,272.1 298.4,272.1 297.5,272.1 296.8,272.1 296.0,272.1 295.3,272.1 294.5,272.1 293.8,272.1 293.1,272.1 292.4,272.1 291.7,272.0 291.0,272.0 290.4,272.0 289.7,272.0 289.1,272.0 288.5,272.0 287.8,272.0 287.2,272.0 286.6,271.9 286.0,271.9 285.4,271.9 284.9,271.9 284.3,271.9 283.7,272.0 283.2,272.0 282.6,272.0 282.1,272.0 281.5,272.1 281.0,272.1 280.5,272.1 280.0,272.2 279.5,272.3 279.0,272.3 278.5,272.4 278.1,272.5 277.6,272.6 277.2,272.7 276.8,272.8 276.4,272.9 275.9,273.0 275.5,273.1 275.1,273.2 274.7,273.3 274.3,273.4 273.9,273.5 273.5,273.6 273.1,273.7 272.7,273.8 272.3,273.9 271.9,274.0 271.5,274.1 271.0,274.2 270.6,274.3 270.2,274.4 269.7,274.5 269.3,274.6 268.9,274.7 268.5,274.8 268.1,274.9 267.7,275.0 267.3,275.2 266.9,275.3 266.5,275.4 266.1,275.5 265.7,275.6 265.3,275.7 264.9,275.8 264.5,275.9 264.0,276.0 263.6,276.1 263.1,276.2 262.6,276.2 262.1,276.3 261.6,276.3 261.1,276.4 260.6,276.4 260.0,276.4 259.4,276.4 258.8,276.4 258.2,276.3 257.6,276.3 256.9,276.2 256.3,276.2 255.6,276.1 255.0,276.0 254.3,275.9 253.6,275.8 252.9,275.7 252.2,275.6 251.4,275.5 250.7,275.4 250.0,275.3 249.2,275.2 248.5,275.0 247.7,274.9 246.9,274.8 246.2,274.7 245.4,274.6 244.6,274.5 243.8,274.4 243.0,274.3 242.2,274.2 241.4,274.1 240.5,274.0 239.7,273.9 238.8,273.8 237.9,273.7 237.0,273.6 236.1,273.5 235.2,273.4 234.3,273.3 233.3,273.2 232.4,273.1 231.5,273.0 230.6,272.9 229.6,272.8 228.7,272.7 227.8,272.7 226.9,272.6 226.0,272.5 225.2,272.4 224.3,272.3 223.4,272.2 222.6,272.2 221.8,272.1 221.0,272.0 220.2,272.0 219.3,271.9 218.5,271.9 217.7,271.8 216.8,271.7 216.0,271.7 215.1,271.6 214.3,271.6 213.5,271.5 212.7,271.5 211.9,271.5 211.1,271.4 210.3,271.4 209.6,271.3 208.9,271.3 208.2,271.3 207.6,271.3 207.0,271.2 206.4,271.2 205.9,271.2 205.4,271.1 205.0,271.1 204.6,271.1" fill="#90ee90" stroke="none"/>
<g fill="none" stroke="#808080" stroke-width="7.6" stroke-linejoin="round">
<polyline points="204.6,267.6 205.0,267.6 205.4,267.6 205.9,267.7 206.4,267.7 207.0,267.7 207.6,267.8 208.2,267.8 208.9,267.8 209.6,267.8 210.3,267.9 211.1,267.9 211.9,268.0 212.7,268.0 213.5,268.0 214.3,268.1 215.1,268.1 216.0,268.2 216.8,268.2 217.7,268.3 218.5,268.4 219.3,268.4 220.2,268.5 221.0,268.5 221.8,268.6 222.6,268.7 223.4,268.7 224.3,268.8 225.2,268.9 226.0,269.0 226.9,269.1 227.8,269.2 228.7,269.2 229.0,269.3"/>
<polyline points="239.5,270.4 239.7,270.4 240.5,270.5 241.4,270.6 242.2,270.7 243.0,270.8 243.8,270.9 244.6,271.0 245.4,271.1 246.2,271.2 246.9,271.3 247.7,271.4 248.5,271.5 249.2,271.7 250.0,271.8 250.7,271.9 251.4,272.0 252.2,272.1 252.9,272.2 253.6,272.3 254.3,272.4 255.0,272.5 255.6,272.6 256.3,272.7 256.9,272.7 257.6,272.8 258.2,272.8 258.8,272.9 259.4,272.9 260.0,272.9 260.6,272.9 261.1,272.9 261.6,272.8 262.1,272.8 262.6,272.7 263.1,272.7 263.6,272.6 263.8,272.5"/>
<polyline points="274.1,269.9 274.3,269.9 274.7,269.8 275.1,269.7 275.5,269.6 275.9,269.5 276.4,269.4 276.8,269.3 277.2,269.2 277.6,269.1 278.1,269.0 278.5,268.9 279.0,268.8 279.5,268.8 280.0,268.7 280.5,268.6 281.0,268.6 281.5,268.6 282.1,268.5 282.6,268.5 283.2,268.5 283.7,268.5 284.3,268.4 284.9,268.4 285.4,268.4 286.0,268.4 286.6,268.4 287.2,268.5 287.8,268.5 288.5,268.5 289.1,268.5 289.7,268.5 290.4,268.5 291.0,268.5 291.7,268.5 292.4,268.6 293.1,268.6 293.8,268.6 294.5,268.6 295.3,268.6 296.0,268.6 296.8,268.6 297.5,268.6 298.4,268.6 298.5,268.6"/>
<polyline points="309.0,268.8 309.9,268.8 310.8,268.8 311.8,268.8 312.7,268.8 313.5,268.8 314.4,268.7 315.3,268.7 316.2,268.6 317.0,268.6 317.8,268.5 318.7,268.5 319.5,268.4 320.3,268.3 321.1,268.2 321.9,268.0 322.7,267.9 323.5,267.8 324.3,267.6 325.1,267.5 325.8,267.3 326.6,267.2 327.4,267.1 328.2,266.9 329.0,266.8 329.7,266.7 330.5,266.5 331.3,266.4 332.1,266.3 332.9,266.2 333.3,266.2"/>
<polyline points="343.9,266.3 344.1,266.3 344.9,266.4 345.8,266.5 346.6,266.6 347.4,266.7 348.2,266.8 349.0,266.9 349.8,267.0 350.5,267.1 351.3,267.2 352.1,267.3 352.8,267.3 353.6,267.4 354.3,267.5 355.0,267.6 355.7,267.7 356.4,267.8 357.0,267.8 357.7,267.9 358.3,268.0 358.9,268.1 359.5,268.2 360.1,268.3 360.6,268.4 361.2,268.5 361.8,268.6 362.3,268.7 362.9,268.8 363.5,268.9 364.1,269.0 364.7,269.1 365.3,269.1 365.9,269.2 366.5,269.3 367.2,269.4 367.8,269.5 368.2,269.5"/>
<polyline points="378.7,270.2 378.7,270.2 379.7,270.3 380.6,270.3 381.6,270.3 382.5,270.4 383.5,270.4 384.4,270.4 385.4,270.5 386.3,270.5 387.2,270.6 388.1,270.6 389.0,270.7 389.8,270.7 390.7,270.7 391.5,270.8 392.3,270.9 393.1,270.9 393.9,271.0 394.6,271.1 395.4,271.1 396.1,271.2 396.9,271.3 397.6,271.4 398.3,271.5 399.0,271.6 399.7,271.6 400.4,271.7 401.1,271.8 401.8,271.9 402.5,271.9 403.1,272.0"/>
<polyline points="413.6,271.6 413.8,271.5 414.4,271.4 414.9,271.3 415.5,271.2 416.0,271.0 416.6,270.9 417.2,270.8 417.7,270.6 418.3,270.5 418.9,270.4 419.6,270.3 420.2,270.1 420.9,270.0 421.6,269.9 422.3,269.8 423.0,269.7 423.8,269.6 424.5,269.5 425.4,269.4 426.2,269.3 427.0,269.3 427.9,269.2 428.8,269.1 429.7,269.0 430.6,268.9 431.5,268.9 432.4,268.8 433.3,268.7 434.3,268.6 435.2,268.6 436.2,268.5 437.1,268.4 437.9,268.3"/>
<polyline points="448.4,266.9 448.9,266.8 449.8,266.6 450.7,266.4 451.6,266.2 452.5,266.0 453.3,265.8 454.2,265.6 455.1,265.4 456.0,265.2 456.9,265.0 457.8,264.9 458.6,264.7 459.5,264.5 460.4,264.4 461.3,264.3 462.2,264.2 463.0,264.1 463.9,264.0 464.8,264.0 465.7,264.0 466.6,264.0 467.5,264.1 468.4,264.1 469.2,264.2 470.1,264.3 471.0,264.5 471.9,264.6 472.6,264.7"/>
<polyline points="482.9,267.1 483.5,267.3 484.4,267.5 485.2,267.6 486.1,267.8 487.0,268.0 487.9,268.2 488.8,268.3 489.7,268.5 490.6,268.7 491.5,268.8 492.5,269.0 493.4,269.2 494.4,269.4 495.3,269.5 496.2,269.7 497.2,269.9 498.1,270.0 499.0,270.2 499.9,270.4 500.8,270.5 501.7,270.7 502.5,270.9 503.4,271.0 504.2,271.1 505.0,271.3 505.8,271.4 506.6,271.6 507.0,271.6"/>
<polyline points="517.4,273.2 517.6,273.3 518.1,273.3 518.5,273.4 519.0,273.4 519.5,273.5 520.0,273.5 520.5,273.5 521.0,273.6 521.5,273.7 522.0,273.7 522.5,273.8 523.0,273.8 523.5,273.9 523.9,273.9 524.4,274.0 524.9,274.0 525.4,274.1 525.9,274.1 526.4,274.2 526.9,274.2 527.4,274.2 528.0,274.2 528.5,274.2 529.1,274.2 529.6,274.2 530.2,274.2 530.8,274.2 531.4,274.1 532.0,274.1 532.7,274.0 533.4,273.9 534.0,273.8 534.7,273.7 535.4,273.6 536.2,273.4 536.9,273.3 537.6,273.1 538.4,273.0 539.1,272.8 539.9,272.6 540.7,272.4 541.4,272.2 541.7,272.2"/>
<polyline points="552.0,269.7 552.7,269.5 553.7,269.3 554.7,269.1 555.7,268.8 556.8,268.6 557.8,268.3 558.9,268.1 560.0,267.8 561.1,267.6 562.2,267.3 563.3,267.1 564.4,266.8 565.5,266.6 566.7,266.3 567.8,266.1 568.9,265.8 570.0,265.6 571.1,265.4 572.2,265.2 573.2,265.0 574.3,264.8 575.3,264.7 576.0,264.6"/>
<polyline points="586.5,263.8 586.9,263.8 587.8,263.8 588.7,263.8 589.6,263.8 590.5,263.8 591.4,263.8 592.2,263.8 593.1,263.9 593.9,263.9 594.7,263.9 595.5,263.9 596.3,263.9 597.0,264.0 597.8,264.0 598.5,264.0 599.2,264.0 599.8,264.0 600.5,264.0 601.0,264.1 601.6,264.1 602.1,264.1 602.6,264.1 603.1,264.1 603.6,264.2 604.1,264.2 604.5,264.2 605.0,264.2 605.4,264.3 605.9,264.3 606.3,264.4 606.8,264.4 607.3,264.5 607.8,264.5 608.3,264.6 608.8,264.7 609.4,264.7 609.9,264.8 610.6,264.9 610.9,265.0"/>
<polyline points="621.4,266.8 622.2,266.9 623.0,267.1 623.9,267.3 624.7,267.4 625.5,267.6 626.3,267.8 627.2,267.9 628.0,268.1 628.8,268.3 629.5,268.4 630.3,268.6 631.0,268.8 631.8,268.9 632.5,269.1 633.2,269.3 633.9,269.5 634.6,269.7 635.3,269.9 636.0,270.1 636.6,270.4 637.3,270.6 638.0,270.8 638.7,271.0 639.3,271.2 640.0,271.4 640.7,271.6 641.4,271.8 642.1,271.9 642.8,272.1 643.5,272.3 644.2,272.4 645.0,272.6 645.2,272.6"/>
<polyline points="655.7,273.4 656.1,273.4 657.0,273.4 657.9,273.4 658.8,273.4 659.8,273.4 660.7,273.4 661.6,273.4 662.5,273.3 663.4,273.3 664.3,273.3 665.2,273.2 666.0,273.1 666.9,273.1 667.7,273.0 668.5,272.9 669.3,272.8 670.1,272.7 670.8,272.6 671.6,272.4 672.3,272.3 673.1,272.2 673.8,272.0 674.5,271.8 675.2,271.6 675.9,271.5 676.6,271.3 677.3,271.1 678.0,270.9 678.7,270.7 679.4,270.5 679.9,270.3"/>
<polyline points="689.9,266.8 690.3,266.7 690.9,266.4 691.4,266.1 692.0,265.9 692.6,265.6 693.2,265.4 693.7,265.1 694.3,264.9 694.9,264.6 695.6,264.4 696.2,264.2 696.8,264.0 697.5,263.8 698.1,263.7 698.8,263.5 699.6,263.4 700.3,263.3 701.1,263.2 701.9,263.2 702.7,263.1 703.5,263.1 704.4,263.1 705.3,263.2 706.2,263.2 707.1,263.3 708.1,263.3 709.0,263.4 710.0,263.5 710.9,263.6 711.9,263.7 712.8,263.8 713.7,263.9 713.8,263.9"/>
<polyline points="724.3,264.3 724.4,264.3 725.0,264.2 725.7,264.2 726.3,264.1 727.0,264.0 727.6,263.9 728.2,263.9 728.8,263.8 729.4,263.7 730.0,263.6 730.6,263.5 731.2,263.5 731.8,263.4 732.3,263.3 732.9,263.3 733.5,263.3 734.0,263.2 734.6,263.2 735.2,263.2 735.7,263.3 736.3,263.3 736.9,263.4 737.4,263.5 738.0,263.6 738.6,263.7 739.1,263.8 739.7,264.0 740.2,264.2 740.8,264.3 741.3,264.5 741.8,264.7 742.4,264.9 742.9,265.1 743.4,265.3 743.9,265.5 744.5,265.7 745.0,265.9 745.5,266.1 746.0,266.3 746.5,266.4 747.0,266.6 747.5,266.7 748.0,266.8 748.2,266.9"/>
<polyline points="758.8,266.3 759.2,266.3 759.6,266.2 760.0,266.2 760.4,266.2 760.8,266.1 761.2,266.1 761.6,266.0 762.0,266.0 762.4,265.9 762.7,265.8 763.1,265.8 763.5,265.7 763.8,265.6 764.2,265.6 764.6,265.5 764.9,265.5 765.3,265.4 765.7,265.4 766.0,265.3 766.4,265.3 766.8,265.3 767.1,265.3 767.5,265.2 767.9,265.2 768.3,265.2 768.7,265.3 769.1,265.3 769.5,265.3 769.9,265.4 770.4,265.4 770.8,265.5 771.2,265.5 771.7,265.6 772.1,265.6 772.6,265.7 773.0,265.8 773.4,265.8 773.9,265.9 774.4,266.0 774.8,266.1 775.3,266.2 775.7,266.4 776.2,266.5 776.6,266.6 777.1,266.8 777.5,267.0 778.0,267.1 778.5,267.3 778.9,267.5 779.4,267.8 779.8,268.0 780.2,268.3 780.7,268.5 781.1,268.8 781.6,269.1 782.0,269.4 782.4,269.6"/>
<polyline points="790.2,277.0 790.4,277.2 790.8,277.7 791.2,278.3 791.6,278.9 792.0,279.5 792.4,280.1 792.9,280.7 793.3,281.4 793.7,282.0 794.1,282.7 794.4,283.4 794.8,284.1 795.2,284.8 795.6,285.5 796.0,286.2 796.4,286.8 796.8,287.5 797.1,288.2 797.5,288.9 797.9,289.5 798.2,290.1 798.6,290.7 798.9,291.3 799.3,291.9 799.6,292.4 799.9,292.9 800.3,293.4 800.6,294.0 800.9,294.5 801.2,295.1 801.6,295.6 801.9,296.1 802.2,296.6 802.5,297.1 802.8,297.6 803.1,298.1 803.4,298.6 803.4,298.6"/>
<polyline points="809.6,297.2 809.6,297.2 809.7,296.7 809.9,296.1 810.0,295.6 810.2,295.0 810.4,294.4 810.6,293.8 810.7,293.1 810.9,292.4 811.1,291.6 811.3,290.9 811.5,290.1 811.7,289.2 811.9,288.4 812.1,287.5 812.3,286.6 812.4,285.7 812.6,284.8 812.8,283.9 813.0,282.9 813.2,282.0 813.4,281.0 813.6,280.0 813.8,279.0 814.0,278.0 814.2,277.0 814.4,276.1 814.6,275.1 814.8,274.1 815.0,273.1 815.2,272.2"/>
<polyline points="817.1,261.2 817.1,260.8 817.3,259.6 817.5,258.5 817.7,257.3 817.9,256.2 818.1,255.1 818.3,254.0 818.5,253.0 818.6,251.9 818.8,250.9 819.0,250.0 819.1,249.1 819.3,248.2 819.5,247.4 819.6,246.6 819.8,245.8 819.9,245.0 820.0,244.3 820.2,243.6 820.3,243.0 820.5,242.3 820.6,241.7 820.7,241.0 820.8,240.4 821.0,239.9 821.1,239.3 821.2,238.7 821.3,238.2 821.5,237.6 821.6,237.1 821.7,236.6 821.8,236.1 821.8,236.0"/>
<polyline points="824.5,225.3 824.5,225.2 824.6,224.8 824.7,224.5 824.8,224.1 824.9,223.8 825.0,223.5 825.1,223.2 825.2,222.9 825.3,222.6 825.4,222.3 825.5,222.1 825.5,221.8 825.6,221.6 825.7,221.4 825.8,221.1 825.9,220.9 825.9,220.7 826.0,220.5 826.1,220.3 826.2,220.2 826.3,220.0 826.3,219.8 826.4,219.6 826.5,219.5 826.6,219.3 826.7,219.1 826.7,219.0 826.8,218.8 826.9,218.7 827.0,218.5 827.1,218.3 827.2,218.2 827.3,218.0 827.4,217.9 827.4,217.8 827.5,217.6 827.6,217.5 827.7,217.4 827.8,217.3 827.9,217.1 828.0,217.0 828.1,216.9 828.2,216.8 828.3,216.7 828.4,216.6 828.5,216.5 828.6,216.5 828.7,216.4 828.8,216.3 828.9,216.2 829.0,216.2 829.1,216.1 829.2,216.1 829.3,216.0 829.4,216.0 829.5,215.9 829.7,215.9 829.8,215.9 829.9,215.8 830.1,215.8 830.2,215.8 830.3,215.8 830.5,215.8 830.6,215.8 830.7,215.8 830.9,215.8 831.0,215.9 831.2,215.9 831.3,215.9 831.4,215.9 831.6,216.0 831.7,216.0 831.9,216.0 832.0,216.1 832.1,216.1 832.3,216.1 832.4,216.2 832.5,216.2 832.6,216.2 832.7,216.3 832.8,216.4 833.0,216.4 833.1,216.5 833.2,216.6 833.3,216.7 833.4,216.7 833.5,216.8 833.6,216.9 833.7,217.0 833.8,217.1 833.9,217.2 834.0,217.3 834.1,217.4 834.2,217.4 834.3,217.5 834.4,217.6 834.5,217.6 834.6,217.7 834.7,217.7 834.8,217.8 835.0,217.8 835.1,217.8 835.2,217.8 835.4,217.8 835.5,217.8 835.6,217.7 835.8,217.7 835.9,217.7 836.1,217.6 836.2,217.6 836.4,217.5 836.5,217.5 836.7,217.4 836.9,217.3 837.0,217.3 837.2,217.2 837.3,217.1 837.5,217.0 837.7,216.9 837.8,216.9 838.0,216.8 838.1,216.7 838.3,216.6 838.5,216.6 838.6,216.5 838.8,216.4 839.0,216.3 839.1,216.2 839.3,216.2 839.5,216.1 839.6,216.0 839.8,215.9 839.9,215.8 840.1,215.7 840.3,215.6 840.4,215.5 840.6,215.4 840.8,215.3 840.9,215.2 841.1,215.2 841.3,215.1 841.4,215.0 841.6,214.9 841.8,214.8 842.0,214.7 842.2,214.6 842.2,214.6"/>
<polyline points="855.4,212.2 855.5,212.2 855.7,212.1 856.0,212.1 856.3,212.1 856.6,212.1 856.9,212.0 857.1,212.0 857.4,212.0 857.7,211.9 858.0,211.9 858.3,211.9 858.6,211.9 858.9,211.8 859.1,211.8 859.4,211.8 859.7,211.8 860.0,211.7 860.3,211.7 860.6,211.7 860.9,211.7 861.2,211.7 861.4,211.6 861.7,211.6 862.0,211.6 862.3,211.6 862.6,211.6 862.8,211.5 863.1,211.5 863.4,211.5 863.6,211.4 863.9,211.4 864.2,211.3 864.4,211.3 864.7,211.3 865.0,211.2 865.2,211.2 865.5,211.2 865.8,211.2 866.0,211.1 866.3,211.1 866.6,211.1 866.9,211.1 867.2,211.1 867.5,211.1 867.8,211.2 868.1,211.2 868.4,211.2 868.7,211.3 869.0,211.4 869.4,211.5 869.7,211.6 870.0,211.7 870.3,211.8 870.7,211.9 871.0,212.1 871.4,212.2 871.7,212.4 872.1,212.5 872.4,212.7 872.8,212.9 873.2,213.0 873.5,213.2 873.9,213.4 874.3,213.5 874.7,213.7 875.1,213.8 875.4,214.0 875.8,214.1 876.3,214.2 876.7,214.3 877.1,214.4 877.5,214.5 877.9,214.6 878.4,214.6 878.8,214.7 879.3,214.7"/>
<polyline points="889.9,214.4 889.9,214.4 890.3,214.3 890.7,214.2 891.1,214.1 891.4,214.0 891.8,213.9 892.1,213.7 892.5,213.6 892.8,213.5 893.2,213.4 893.5,213.2 893.8,213.1 894.2,213.0 894.5,212.9 894.8,212.8 895.1,212.7 895.4,212.6 895.7,212.5 896.0,212.4 896.3,212.4 896.5,212.4 896.8,212.4 897.1,212.4 897.4,212.4 897.6,212.5 897.9,212.6 898.1,212.6 898.4,212.7 898.6,212.8 898.9,212.9 899.1,213.0 899.3,213.2 899.5,213.3 899.8,213.5 900.0,213.6 900.2,213.8 900.4,213.9 900.6,214.1 900.8,214.3 901.0,214.5 901.1,214.7 901.3,214.9 901.5,215.1 901.7,215.3 901.9,215.6 902.0,215.8 902.2,216.0 902.4,216.2 902.5,216.5 902.7,216.7 902.8,217.0 903.0,217.3 903.1,217.6 903.2,217.9 903.4,218.2 903.5,218.5 903.6,218.9 903.8,219.2 903.9,219.5 904.0,219.8 904.1,220.2 904.2,220.5 904.3,220.8 904.4,221.2 904.5,221.5 904.6,221.8 904.7,222.1 904.8,222.4 904.9,222.7 905.0,223.0 905.1,223.3 905.2,223.6 905.3,223.8 905.3,224.0 905.4,224.2 905.5,224.4 905.5,224.5 905.6,224.7 905.7,224.9 905.7,225.0 905.8,225.2 905.8,225.3 905.9,225.5 905.9,225.6 905.9,225.8 906.0,226.0 906.0,226.3 906.1,226.3"/>
<polyline points="907.9,237.3 908.0,238.0 908.1,238.9 908.2,239.8 908.4,240.7 908.5,241.5 908.6,242.4 908.7,243.3 908.9,244.1 909.0,244.9 909.1,245.8 909.3,246.5 909.4,247.3 909.5,248.0 909.6,248.7 909.7,249.4 909.9,250.0 910.0,250.7 910.1,251.3 910.2,252.0 910.4,252.6 910.5,253.2 910.6,253.8 910.7,254.4 910.9,255.0 911.0,255.6 911.1,256.2 911.2,256.7 911.4,257.3 911.5,257.9 911.6,258.5 911.7,259.1 911.8,259.6 912.0,260.2 912.1,260.8 912.2,261.4 912.3,262.0 912.4,262.5"/>
<polyline points="914.0,273.5 914.1,274.0 914.2,274.6 914.3,275.2 914.4,275.8 914.5,276.5 914.6,277.1 914.7,277.7 914.8,278.4 914.9,279.1 915.0,279.8 915.1,280.5 915.3,281.2 915.4,281.9 915.5,282.6 915.6,283.4 915.7,284.1 915.8,284.8 916.0,285.6 916.1,286.3 916.2,287.0 916.3,287.7 916.5,288.4 916.6,289.0 916.7,289.7 916.8,290.3 917.0,290.9 917.1,291.5 917.2,292.1 917.4,292.6 917.5,293.1 917.6,293.6 917.8,294.0 917.9,294.5 918.1,294.9 918.2,295.3 918.4,295.7 918.5,296.1 918.7,296.5 918.8,296.9 919.0,297.2 919.1,297.5 919.3,297.8 919.5,298.1 919.6,298.4"/>
<polyline points="926.9,295.3 927.1,295.1 927.3,294.8 927.5,294.5 927.7,294.1 927.9,293.8 928.2,293.5 928.4,293.1 928.6,292.7 928.9,292.3 929.2,291.9 929.4,291.5 929.7,291.1 930.0,290.6 930.2,290.1 930.5,289.7 930.8,289.2 931.1,288.7 931.4,288.2 931.7,287.7 932.0,287.2 932.3,286.6 932.6,286.1 933.0,285.6 933.3,285.1 933.6,284.5 933.9,284.0 934.3,283.5 934.6,283.0 935.0,282.5 935.3,282.0 935.7,281.5 936.1,281.0 936.5,280.5 936.8,280.0 937.3,279.5 937.7,278.9 938.1,278.4 938.5,277.9 939.0,277.3 939.4,276.8 939.9,276.3 940.3,275.7 940.8,275.2 941.2,274.7 941.3,274.6"/>
<polyline points="949.1,267.2 949.3,267.1 949.5,267.0 949.8,266.8 950.1,266.7 950.4,266.5 950.7,266.4 951.0,266.3 951.2,266.2 951.5,266.0 951.8,265.9 952.1,265.8 952.5,265.7 952.8,265.6 953.1,265.5 953.4,265.4 953.7,265.3 954.0,265.2 954.3,265.2 954.6,265.1 954.9,265.0 955.2,265.0 955.5,264.9 955.8,264.9 956.1,264.9 956.4,264.8 956.7,264.8 957.0,264.8 957.3,264.8 957.7,264.8 958.1,264.8 958.4,264.7 958.8,264.7 959.3,264.7 959.7,264.7 960.2,264.7 960.7,264.7 961.2,264.7 961.8,264.7 962.4,264.7 963.0,264.7 963.7,264.7 964.4,264.7 965.2,264.7 966.0,264.8 966.7,264.8 967.6,264.8 968.4,264.9 969.2,264.9 970.1,264.9 971.0,265.0 971.9,265.0 972.7,265.0 973.6,265.1 974.5,265.1 974.6,265.1"/>
<polyline points="985.4,264.5 986.1,264.4 986.7,264.2 987.4,264.1 988.0,264.0 988.7,263.8 989.3,263.7 990.0,263.6 990.6,263.4 991.3,263.3 992.0,263.1 992.7,263.0 993.4,262.9 994.2,262.8 994.9,262.7 995.7,262.6 996.5,262.5 997.3,262.4 998.2,262.3 999.1,262.2 1000.1,262.2 1001.1,262.1 1002.1,262.0 1003.2,262.0 1004.3,261.9 1005.4,261.9 1006.5,261.8 1007.7,261.8 1008.8,261.7 1009.7,261.7"/>
<polyline points="1020.3,261.7 1021.0,261.7 1021.9,261.7 1022.8,261.7 1023.6,261.8 1024.4,261.9 1025.1,261.9 1025.8,262.0 1026.5,262.1 1027.1,262.2 1027.7,262.3 1028.3,262.4 1028.8,262.5 1029.3,262.6 1029.8,262.7 1030.3,262.8 1030.8,262.9 1031.3,263.1 1031.7,263.2 1032.2,263.4 1032.6,263.5 1033.1,263.7 1033.5,263.9 1034.0,264.0 1034.4,264.2 1034.9,264.4 1035.4,264.6 1035.9,264.8 1036.4,265.0 1036.9,265.2 1037.5,265.5 1038.0,265.7 1038.5,266.0 1039.0,266.2 1039.6,266.5 1040.1,266.8 1040.6,267.1 1041.1,267.4 1041.7,267.8 1042.2,268.1 1042.7,268.4 1043.2,268.7 1043.4,268.8"/>
<polyline points="1053.1,273.3 1053.1,273.3 1053.6,273.4 1054.1,273.6 1054.6,273.7 1055.1,273.9 1055.6,274.0 1056.2,274.1 1056.7,274.2 1057.2,274.3 1057.8,274.5 1058.3,274.6 1058.9,274.6 1059.4,274.7 1060.0,274.8 1060.6,274.9 1061.2,274.9 1061.8,275.0 1062.4,275.0 1063.1,275.1 1063.7,275.1 1064.4,275.1 1065.0,275.2 1065.7,275.2 1066.4,275.2 1067.1,275.2 1067.8,275.1 1068.5,275.1 1069.2,275.1 1069.9,275.1 1070.6,275.0 1071.4,275.0 1072.1,274.9 1072.8,274.9 1073.6,274.8 1074.3,274.8 1075.0,274.7 1075.8,274.7 1076.5,274.6 1077.3,274.5 1077.4,274.5"/>
<polyline points="1087.9,273.4 1088.1,273.4 1088.9,273.3 1089.7,273.2 1090.5,273.1 1091.3,272.9 1092.1,272.8 1092.9,272.7 1093.8,272.6 1094.6,272.4 1095.4,272.3 1096.2,272.1 1097.1,272.0 1097.9,271.8 1098.7,271.6 1099.6,271.4 1100.5,271.3 1101.3,271.1 1102.2,270.9 1103.1,270.6 1104.0,270.4 1104.9,270.2 1105.8,270.0 1106.8,269.7 1107.7,269.5 1108.6,269.2 1109.5,269.0 1110.4,268.8 1111.3,268.5 1111.9,268.4"/>
<polyline points="1122.1,265.7 1122.1,265.7 1122.9,265.5 1123.7,265.3 1124.5,265.0 1125.2,264.8 1126.0,264.6 1126.7,264.4 1127.4,264.2 1128.2,264.0 1128.9,263.8 1129.6,263.7 1130.3,263.5 1131.0,263.3 1131.6,263.1 1132.3,263.0 1132.9,262.8 1133.6,262.7 1134.2,262.6 1134.8,262.5 1135.4,262.4 1136.0,262.3 1136.6,262.2 1137.1,262.2 1137.6,262.1 1138.1,262.1 1138.6,262.1 1139.0,262.1 1139.4,262.1 1139.8,262.1 1140.3,262.1 1140.7,262.1 1141.0,262.1 1141.4,262.2 1141.8,262.2 1142.2,262.3 1142.6,262.3 1143.0,262.4 1143.4,262.4 1143.8,262.5 1144.2,262.6 1144.7,262.6 1145.1,262.7 1145.6,262.8 1146.1,262.8 1146.2,262.8"/>
<polyline points="1156.6,264.7 1157.2,264.8 1157.9,265.0 1158.6,265.1 1159.3,265.2 1160.0,265.3 1160.8,265.4 1161.5,265.5 1162.3,265.6 1163.1,265.7 1163.9,265.8 1164.7,265.8 1165.6,265.9 1166.5,266.0 1167.4,266.1 1168.3,266.1 1169.3,266.2 1170.2,266.2 1171.2,266.3 1172.1,266.4 1173.1,266.5 1174.0,266.5 1174.9,266.6 1175.9,266.7 1176.8,266.8 1177.7,266.9 1178.6,267.0 1179.5,267.1 1180.3,267.2 1180.9,267.3"/>
<polyline points="1191.0,270.5 1191.2,270.6 1191.8,270.9 1192.4,271.2 1193.0,271.4 1193.5,271.6 1194.1,271.9 1194.7,272.1 1195.2,272.3 1195.8,272.5 1196.4,272.6 1196.9,272.8 1197.5,272.9 1198.1,273.0 1198.6,273.1 1199.2,273.2 1199.8,273.2 1200.3,273.3 1200.9,273.3 1201.4,273.3 1202.0,273.3 1202.5,273.4 1203.1,273.4 1203.6,273.3 1204.2,273.3 1204.7,273.3 1205.2,273.3 1205.7,273.2 1206.3,273.2 1206.8,273.2 1207.3,273.1 1207.8,273.1 1208.3,273.0 1208.8,273.0 1209.3,273.0 1209.8,272.9 1210.3,272.9 1210.8,272.9 1211.2,272.8 1211.7,272.8 1212.1,272.8 1212.6,272.7 1213.0,272.7 1213.4,272.6 1213.8,272.6 1214.3,272.5 1214.7,272.5 1215.0,272.5"/>
<polyline points="1225.4,270.3 1225.4,270.3 1226.0,270.1 1226.6,269.9 1227.3,269.7 1227.9,269.6 1228.5,269.4 1229.1,269.2 1229.8,269.0 1230.4,268.9 1231.1,268.7 1231.7,268.5 1232.4,268.4 1233.0,268.2 1233.7,268.0 1234.4,267.9 1235.0,267.7 1235.7,267.6 1236.4,267.5 1237.0,267.3 1237.7,267.2 1238.4,267.1 1239.1,266.9 1239.8,266.8 1240.4,266.7 1241.1,266.5 1241.8,266.4 1242.5,266.3 1243.2,266.2 1243.9,266.0 1244.7,265.9 1245.4,265.8 1246.1,265.7 1246.9,265.6 1247.6,265.5 1248.3,265.4 1249.1,265.3 1249.4,265.3"/>
<polyline points="1259.9,264.9 1260.7,264.9 1261.6,264.9 1262.5,264.9 1263.4,265.0 1264.3,265.0 1265.2,265.0 1266.1,265.1 1267.0,265.1 1267.9,265.1 1268.8,265.2 1269.7,265.2 1270.6,265.3 1271.5,265.3 1272.4,265.4 1273.3,265.4 1274.2,265.5 1275.1,265.6 1276.0,265.6 1276.9,265.7 1277.7,265.7 1278.6,265.8 1279.5,265.9 1280.4,265.9 1281.3,266.0 1282.2,266.1 1283.0,266.2 1283.9,266.2 1284.4,266.3"/>
<polyline points="1294.9,267.5 1295.4,267.6 1296.3,267.7 1297.2,267.9 1298.1,268.0 1299.0,268.2 1299.9,268.4 1300.8,268.5 1301.8,268.7 1302.7,268.9 1303.6,269.1 1304.6,269.3 1305.5,269.5 1306.4,269.7 1307.3,269.9 1308.2,270.1 1309.1,270.3 1310.0,270.5 1310.9,270.7 1311.7,270.8 1312.6,271.0 1313.4,271.2 1314.3,271.4 1315.1,271.5 1315.8,271.7 1316.6,271.8 1317.3,271.9 1318.0,272.1 1318.7,272.2 1318.9,272.2"/>
<polyline points="1329.3,274.0 1329.4,274.0 1330.1,274.0 1330.8,274.0 1331.5,274.0 1332.3,274.0 1333.0,273.9 1333.8,273.9 1334.7,273.8 1335.5,273.7 1336.4,273.6 1337.2,273.5 1338.1,273.4 1339.0,273.2 1339.9,273.1 1340.8,272.9 1341.7,272.8 1342.6,272.6 1343.5,272.4 1344.5,272.3 1345.4,272.1 1346.3,271.9 1347.3,271.8 1348.2,271.6 1349.1,271.4 1350.0,271.3 1350.9,271.1 1351.8,270.9 1352.7,270.8 1353.6,270.7"/>
<polyline points="1364.0,268.7 1364.2,268.7 1365.1,268.5 1366.0,268.3 1366.8,268.2 1367.7,268.0 1368.6,267.9 1369.5,267.7 1370.4,267.6 1371.2,267.4 1372.1,267.3 1373.0,267.2 1373.9,267.1 1374.8,267.0 1375.7,266.9 1376.6,266.8 1377.5,266.7 1378.4,266.7 1379.3,266.6 1380.2,266.5 1381.1,266.4 1382.0,266.4 1382.9,266.3 1383.9,266.3 1384.8,266.2 1385.7,266.2 1386.6,266.1 1387.5,266.1 1388.3,266.1"/>
<polyline points="1398.9,265.9 1398.9,265.9 1399.6,265.9 1400.4,265.9 1401.1,265.9 1401.8,265.9 1402.5,265.9 1403.2,265.9 1403.9,265.9 1404.6,266.0 1405.2,266.0 1405.9,266.0 1406.6,266.1 1407.3,266.1 1408.0,266.2 1408.6,266.2 1409.3,266.3 1410.0,266.3 1410.7,266.4 1411.4,266.4 1412.1,266.5 1412.8,266.6 1413.5,266.7 1414.2,266.7 1414.9,266.8 1415.6,266.9 1416.2,267.0 1416.9,267.1 1417.6,267.2 1418.3,267.3 1418.9,267.4 1419.6,267.6 1420.3,267.7 1421.0,267.8 1421.7,267.9 1422.3,268.1 1423.0,268.2 1423.2,268.2"/>
<polyline points="1433.6,270.3 1434.0,270.4 1434.9,270.6 1435.8,270.8 1436.7,271.0 1437.6,271.2 1438.5,271.4 1439.4,271.6 1440.3,271.8 1441.2,272.0 1442.1,272.2 1443.0,272.4 1444.0,272.6 1444.9,272.8 1445.8,272.9 1446.7,273.1 1447.6,273.2 1448.5,273.3 1449.4,273.4 1450.3,273.5 1451.2,273.6 1452.1,273.6 1453.0,273.7 1453.8,273.7 1454.7,273.7 1455.6,273.7 1456.5,273.7 1457.4,273.7 1457.8,273.7"/>
<polyline points="1468.3,273.1 1468.9,273.1 1469.7,273.0 1470.6,272.9 1471.5,272.9 1472.4,272.9 1473.3,272.8 1474.2,272.7 1475.1,272.7 1476.0,272.6 1476.9,272.6 1477.9,272.5 1478.8,272.4 1479.7,272.4 1480.7,272.3 1481.6,272.2 1482.5,272.1 1483.4,272.1 1484.3,272.0 1485.2,271.9 1486.1,271.9 1487.0,271.8 1487.8,271.7 1488.7,271.7 1489.5,271.6 1490.4,271.6 1491.2,271.5 1491.9,271.4 1492.7,271.4 1492.7,271.4"/>
<polyline points="1503.3,271.0 1503.8,271.0 1504.4,270.9 1505.0,270.9 1505.6,270.9 1506.2,270.9 1506.8,270.8 1507.5,270.8 1508.2,270.8 1508.9,270.7 1509.6,270.7 1510.4,270.6 1511.2,270.6 1512.0,270.5 1512.8,270.5 1513.6,270.4 1514.5,270.4 1515.3,270.3 1516.1,270.3 1516.9,270.2 1517.7,270.2 1518.5,270.1 1519.3,270.1 1520.0,270.0 1520.7,270.0 1521.4,269.9 1522.0,269.9 1522.6,269.8 1523.2,269.8 1523.7,269.8 1524.1,269.7 1524.5,269.7"/>
</g>
<!-- real -->
<polyline points="204.5,392.5 205.1,390.6 205.8,388.4 206.4,386.8 207.0,385.6 207.6,384.6 208.2,384.0 208.9,383.3 209.5,382.3 210.1,381.4 210.8,379.6 211.4,379.3 212.0,379.2 212.6,379.0 213.2,377.5 213.9,377.1 214.5,375.7 215.2,375.0 215.8,374.9 216.5,376.0 217.1,377.9 217.7,378.4 218.3,379.2 218.9,379.6 219.5,379.4 220.1,381.3 220.7,383.1 221.3,384.7 221.9,385.0 222.5,386.0 223.1,385.7 223.7,386.5 224.3,387.3 224.9,389.1 225.5,390.5 226.1,391.6 226.8,392.8 227.4,394.7 228.1,395.4 228.7,397.4 229.3,398.8 230.0,398.6 230.6,398.2 231.2,400.1 231.8,399.0 232.5,398.9 233.1,400.3 233.7,400.2 234.4,400.0 235.0,401.8 235.6,400.1 236.2,399.8 236.9,400.0 237.5,399.3 238.1,399.5 238.8,399.8 239.4,398.4 240.0,396.1 240.7,395.0 241.3,392.6 242.0,391.1 242.7,389.3 243.4,388.6 244.0,386.9 244.7,387.3 245.4,385.3 246.1,384.2 246.7,384.2 247.4,384.6 248.0,383.7 248.6,383.4 249.3,382.3 249.9,382.0 250.5,380.0 251.1,379.7 251.8,382.5 252.4,385.8 253.1,386.5 253.7,388.0 254.4,389.9 255.0,391.2 255.6,391.3 256.2,392.0 256.9,392.7 257.5,391.7 258.1,392.0 258.8,392.7 259.4,393.2 260.0,391.9 260.7,394.1 261.4,395.4 262.1,395.1 262.8,396.2 263.5,399.9 264.2,401.0 264.9,403.1 265.5,404.2 266.1,403.6 266.8,402.5 267.4,403.2 268.0,401.6 268.6,401.4 269.3,400.4 269.9,399.3 270.5,399.7 271.1,399.8 271.8,398.6 272.4,399.9 273.0,401.3 273.6,400.5 274.3,399.6 274.9,400.3 275.5,397.7 276.1,394.5 276.8,394.0 277.4,392.3 278.0,391.4 278.6,388.8 279.3,388.0 279.9,387.0 280.6,388.1 281.3,387.3 281.9,388.0 282.6,388.2 283.3,387.5 284.0,386.6 284.6,385.5 285.3,385.0 286.0,384.9 286.6,384.3 287.3,384.0 288.0,384.4 288.7,385.4 289.3,385.1 290.0,384.6 290.7,383.7 291.4,383.1 292.1,382.2 292.8,381.5 293.4,381.9 294.1,383.3 294.8,381.4 295.5,379.9 296.1,380.2 296.8,380.1 297.5,378.9 298.1,380.3 298.8,381.5 299.5,381.4 300.1,380.7 300.8,382.2 301.5,382.6 302.1,381.7 302.8,381.4 303.5,381.5 304.1,379.7 304.8,377.4 305.5,378.3 306.2,379.8 306.8,380.0 307.5,380.8 308.2,384.1 308.9,385.9 309.6,387.0 310.3,387.4 310.9,388.0 311.6,387.9 312.3,388.5 313.0,388.2 313.7,387.5 314.4,388.5 315.1,387.8 315.7,387.8 316.4,386.0 317.1,388.0 317.8,388.1 318.5,389.0 319.2,388.9 319.9,390.7 320.5,390.9 321.2,390.2 321.9,391.6 322.6,392.5 323.3,391.9 324.0,394.0 324.6,393.5 325.3,393.3 326.0,392.6 326.6,393.6 327.2,393.0 327.9,394.7 328.5,395.3 329.1,395.2 329.8,394.8 330.4,395.5 331.0,395.5 331.7,394.2 332.4,394.1 333.0,396.0 333.7,396.0 334.4,397.5 335.1,397.5 335.8,398.4 336.5,396.6 337.1,396.5 337.8,396.5 338.5,396.4 339.2,397.2 339.8,398.3 340.5,397.3 341.2,394.5 341.8,395.8 342.5,394.3 343.2,392.9 343.8,392.9 344.5,394.3 345.2,394.0 345.8,393.0 346.5,393.9 347.2,394.3 347.8,394.7 348.5,393.2 349.2,393.7 349.8,393.9 350.5,393.2 351.2,392.6 351.8,394.0 352.5,394.6 353.2,392.6 353.9,392.6 354.5,391.5 355.2,391.3 355.9,392.0 356.5,393.5 357.2,394.1 357.9,396.3 358.6,396.1 359.3,397.1 360.0,397.9 360.6,398.9 361.3,399.7 362.0,401.1 362.7,400.1 363.4,401.0 364.1,397.8 364.8,394.7 365.4,391.0 366.1,390.9 366.8,388.2 367.5,388.3 368.1,387.6 368.8,387.8 369.5,385.3 370.2,385.1 370.8,385.1 371.5,384.1 372.2,383.2 372.9,384.8 373.6,385.0 374.3,383.3 375.0,383.4 375.6,384.3 376.3,382.9 377.0,383.1 377.7,385.2 378.4,386.6 379.1,387.5 379.8,390.8 380.4,392.9 381.1,392.9 381.8,392.9 382.5,394.0 383.2,395.7 383.9,396.7 384.5,398.5 385.2,400.6 385.9,401.6 386.5,399.0 387.1,396.7 387.8,395.7 388.4,392.8 389.0,392.2 389.6,390.0 390.3,389.7 390.9,390.3 391.6,392.1 392.2,390.6 392.9,390.8 393.6,392.6 394.2,392.1 394.9,393.2 395.5,395.6 396.2,397.0 396.8,397.3 397.5,398.9 398.2,399.2 398.9,399.3 399.6,397.7 400.3,398.5 400.9,398.8 401.6,398.5 402.3,398.2 403.0,401.3 403.7,399.8 404.3,398.4 404.9,399.5 405.6,398.4 406.2,396.8 406.8,398.5 407.4,397.3 408.1,395.2 408.7,395.7 409.3,394.1 410.0,392.1 410.6,391.9 411.2,391.5 411.9,390.3 412.5,390.2 413.1,389.0 413.7,388.0 414.4,387.5 415.0,387.0 415.6,384.8 416.2,383.1 416.8,383.5 417.5,381.9 418.1,380.5 418.7,377.5 419.3,376.7 420.0,375.8 420.7,376.8 421.4,377.3 422.1,379.7 422.8,380.3 423.5,379.2 424.2,379.4 424.9,379.9 425.5,380.1 426.2,381.3 426.8,384.5 427.4,383.4 428.0,383.4 428.7,384.7 429.3,384.5 429.9,383.6 430.6,384.5 431.2,387.1 431.9,388.3 432.5,388.2 433.2,388.3 433.9,390.9 434.5,390.9 435.2,392.2 435.9,394.4 436.6,395.5 437.2,395.2 437.9,393.8 438.6,392.8 439.2,392.9 439.9,394.7 440.5,393.3 441.1,394.1 441.8,394.3 442.4,394.0 443.0,393.5 443.6,393.5 444.2,391.2 444.9,389.2 445.5,386.8 446.1,383.6 446.7,383.2 447.4,383.6 448.0,383.1 448.6,383.4 449.2,384.1 449.9,384.8 450.5,384.9 451.1,384.3 451.7,383.9 452.4,384.2 453.0,383.9 453.6,383.3 454.2,384.0 454.9,382.5 455.5,380.0 456.1,379.2 456.8,378.2 457.4,377.9 458.0,378.7 458.6,379.2 459.3,379.3 459.9,382.0 460.5,382.1 461.1,382.9 461.8,385.1 462.4,387.1 463.0,388.0 463.6,390.1 464.2,393.7 464.9,396.4 465.5,397.7 466.1,399.5 466.8,400.9 467.4,400.9 468.1,401.5 468.8,401.2 469.4,401.0 470.1,400.8 470.8,400.3 471.5,400.7 472.1,402.2 472.8,403.4 473.5,403.1 474.1,405.5 474.8,406.0 475.4,406.5 476.1,407.0 476.7,410.0 477.3,409.1 477.9,409.9 478.6,411.9 479.2,412.9 479.8,411.3 480.5,411.6 481.2,411.2 481.8,411.2 482.5,411.6 483.2,412.3 483.9,412.7 484.6,412.7 485.3,412.0 485.9,411.4 486.6,411.1 487.3,410.9 487.9,408.2 488.6,406.0 489.2,404.4 489.8,402.0 490.4,399.6 491.1,397.4 491.7,395.8 492.3,394.6 492.9,395.5 493.6,395.2 494.2,395.9 494.8,394.8 495.4,395.1 496.1,394.5 496.7,394.8 497.3,393.8 497.9,395.2 498.6,393.2 499.2,393.9 499.8,394.4 500.4,394.2 501.1,394.9 501.7,397.1 502.3,395.9 502.9,395.5 503.6,397.7 504.2,398.9 504.8,399.0 505.4,401.9 506.1,404.9 506.7,407.6 507.3,410.2 508.0,411.5 508.7,411.6 509.4,409.8 510.1,408.2 510.7,406.3 511.4,403.8 512.1,402.2 512.8,402.4 513.5,402.4 514.1,401.7 514.8,401.3 515.4,401.1 516.0,400.6 516.6,399.7 517.2,400.5 517.9,400.6 518.5,400.8 519.1,398.6 519.8,396.3 520.4,393.4 521.0,391.3 521.7,386.4 522.3,383.0 523.0,382.2 523.7,380.9 524.4,380.3 525.1,381.5 525.8,380.5 526.5,379.5 527.2,379.5 527.8,379.2 528.5,379.1 529.1,379.6 529.7,378.7 530.4,378.4 531.0,377.6 531.6,377.3 532.2,377.1 532.9,376.7 533.5,375.4 534.1,374.9 534.8,373.5 535.4,372.3 536.0,372.4 536.6,372.7 537.2,372.7 537.9,373.2 538.5,373.4 539.1,377.2 539.7,379.4 540.4,382.2 541.0,384.0 541.6,387.2 542.2,385.9 542.8,384.6 543.5,383.0 544.1,382.3 544.7,382.2 545.3,383.1 546.0,383.5 546.6,382.8 547.2,382.1 547.8,382.1 548.5,383.1 549.1,383.9 549.7,383.9 550.3,385.4 551.0,385.7 551.6,387.3 552.2,389.7 552.9,390.2 553.6,389.2 554.3,390.6 555.0,390.3 555.6,388.1 556.3,388.3 557.0,388.5 557.7,388.1 558.4,387.4 559.1,390.0 559.8,391.9 560.4,392.4 561.1,392.9 561.8,394.0 562.5,394.7 563.1,393.9 563.8,395.2 564.5,395.6 565.2,396.2 565.8,396.6 566.5,398.9 567.2,399.3 567.9,398.8 568.6,399.4 569.3,398.5 570.0,397.3 570.6,398.0 571.3,398.8 572.0,397.5 572.7,398.7 573.4,398.1 574.1,399.0 574.8,399.1 575.5,400.8 576.2,399.4 576.8,402.0 577.5,403.8 578.2,404.7 578.9,405.1 579.6,406.6 580.2,406.9 580.9,406.4 581.5,407.9 582.1,409.5 582.8,411.3 583.4,410.5 584.0,411.6 584.6,411.3 585.3,412.3 585.9,413.3 586.5,413.0 587.1,411.5 587.8,410.5 588.4,409.2 589.0,407.3 589.7,407.0 590.3,406.7 591.0,406.2 591.6,404.7 592.3,403.5 593.0,400.7 593.6,398.8 594.3,398.1 594.9,397.7 595.6,397.6 596.3,401.2 596.9,402.5 597.6,403.8 598.3,407.0 598.9,406.8 599.6,406.5 600.2,407.6 600.9,408.2 601.5,407.0 602.2,408.7 602.9,409.8 603.5,410.2 604.1,411.2 604.8,410.0 605.5,409.0 606.1,408.2 606.8,406.9 607.5,405.0 608.2,406.2 608.8,405.8 609.5,405.7 610.2,407.8 610.8,409.6 611.5,410.4 612.1,411.7 612.8,411.2 613.4,411.5 614.1,412.5 614.7,412.7 615.4,413.6 616.1,415.2 616.7,414.7 617.4,415.0 618.0,416.8 618.7,416.6 619.4,416.3 620.0,417.0 620.7,417.7 621.3,416.8 622.0,417.9 622.7,415.9 623.3,414.5 624.0,412.0 624.7,409.0 625.4,408.0 626.0,407.6 626.7,404.9 627.4,404.0 628.0,403.7 628.7,401.5 629.4,400.7 630.0,400.4 630.7,399.2 631.4,399.9 632.0,398.7 632.7,397.2 633.3,396.8 634.0,395.6 634.6,393.6 635.3,394.1 636.0,393.9 636.6,393.9 637.2,395.1 637.9,393.4 638.6,390.6 639.2,389.5 639.9,389.9 640.5,387.8 641.2,387.6 641.9,388.5 642.5,388.5 643.2,387.4 643.9,389.3 644.5,391.1 645.2,392.6 645.9,393.6 646.5,395.8 647.2,397.1 647.9,398.0 648.5,398.5 649.2,398.2 649.8,398.7 650.5,398.3 651.2,397.5 651.8,396.9 652.5,398.1 653.1,397.1 653.8,397.4 654.5,396.2 655.1,393.3 655.8,390.9 656.5,389.4 657.1,388.4 657.8,386.2 658.4,384.5 659.1,383.2 659.8,381.7 660.4,379.0 661.1,378.2 661.8,377.3 662.4,374.7 663.1,372.7 663.7,369.8 664.4,366.5 665.1,366.4 665.7,367.1 666.4,366.3 667.0,367.3 667.7,367.0 668.3,366.8 669.0,367.1 669.7,366.4 670.3,367.5 671.0,367.2 671.6,366.6 672.3,365.3 673.0,365.7 673.6,362.4 674.3,360.6 674.9,360.2 675.6,359.9 676.2,358.8 676.9,360.8 677.6,361.6 678.2,360.6 678.9,359.9 679.5,358.9 680.2,357.5 680.9,355.6 681.5,354.2 682.2,350.2 682.9,349.6 683.5,347.3 684.2,347.9 684.9,348.7 685.6,350.2 686.2,348.5 686.9,347.5 687.6,346.8 688.2,345.4 688.9,346.4 689.5,347.1 690.2,348.0 690.9,349.0 691.5,350.6 692.2,351.1 692.8,351.5 693.5,352.4 694.2,353.0 694.8,352.1 695.5,353.3 696.1,354.2 696.8,353.6 697.5,355.0 698.1,356.6 698.8,355.0 699.4,356.3 700.1,357.8 700.8,357.4 701.4,357.0 702.1,357.7 702.7,355.2 703.4,355.4 704.1,354.5 704.7,353.9 705.4,354.0 706.0,354.9 706.7,354.4 707.4,356.1 708.0,358.3 708.7,358.5 709.4,360.1 710.0,362.1 710.7,365.3 711.3,367.1 712.0,370.5 712.7,373.9 713.3,375.1 714.0,376.7 714.7,380.1 715.3,382.2 716.0,383.9 716.6,384.7 717.3,385.3 718.0,385.0 718.6,386.1 719.2,387.0 719.9,390.2 720.6,390.5 721.2,391.2 721.9,392.2 722.5,391.4 723.2,390.9 723.9,392.5 724.5,393.4 725.2,394.2 725.9,394.6 726.5,395.6 727.2,394.9 727.8,395.3 728.5,395.3 729.2,396.9 729.8,397.7 730.5,399.6 731.2,399.4 731.8,399.7 732.5,400.6 733.1,399.6 733.8,399.4 734.5,400.1 735.1,399.4 735.8,397.0 736.4,398.3 737.1,399.1 737.7,396.4 738.4,395.8 739.1,397.3 739.7,396.6 740.4,395.8 741.0,397.4 741.7,397.0 742.4,397.1 743.0,397.5 743.7,396.6 744.4,397.0 745.0,398.6 745.7,398.1 746.3,398.1 747.0,399.5 747.7,401.5 748.3,401.9 749.0,403.6 749.6,404.4 750.3,405.6 751.0,404.8 751.6,405.3 752.3,406.5 753.0,407.6 753.6,408.8 754.3,408.7 755.0,407.1 755.6,403.5 756.3,402.7 757.0,399.6 757.6,398.8 758.3,398.2 758.9,397.6 759.6,395.3 760.3,395.1 760.9,393.2 761.6,392.4 762.2,393.5 762.9,391.2 763.5,391.2 764.2,391.9 764.9,391.4 765.5,390.2 766.2,391.8 766.8,390.4 767.5,390.2 768.2,388.9 768.8,388.5 769.5,386.3 770.2,385.8 770.8,385.7 771.5,385.6 772.2,384.4 772.8,383.5 773.5,382.3 774.2,380.6 774.8,380.3 775.5,380.0 776.1,379.0 776.8,377.3 777.5,375.9 778.1,372.7 778.8,369.8 779.4,367.9 780.1,367.5 780.8,366.0 781.5,365.4 782.1,365.2 782.8,364.6 783.5,364.4 784.2,363.4 784.9,364.5 785.5,365.2 786.2,364.4 786.8,365.1 787.5,366.2 788.1,366.1 788.8,366.9 789.4,369.0 790.1,368.3 790.7,369.2 791.4,369.3 792.0,370.7 792.7,369.9 793.4,372.1 794.1,372.2 794.8,374.3 795.5,375.1 796.2,374.5 796.9,374.3 797.5,377.2 798.2,378.7 798.8,378.8 799.5,384.2 800.1,386.6 800.7,387.2 801.4,390.0 802.0,391.4 802.7,392.8 803.3,394.4 804.0,397.8 804.6,400.2 805.3,403.6 806.0,404.0 806.6,405.3 807.3,408.2 807.9,409.9 808.6,411.4 809.2,412.5 809.8,413.6 810.5,412.8 811.1,410.3 811.7,410.2 812.4,406.3 813.0,402.5 813.7,398.7 814.4,394.6 815.0,390.9 815.7,386.7 816.3,384.0 817.0,378.8 817.7,374.4 818.3,368.5 819.0,363.0 819.6,355.0 820.3,350.7 821.0,344.5 821.6,338.9 822.3,332.1 822.9,329.9 823.6,326.1 824.2,323.0 824.9,321.0 825.5,319.1 826.1,316.0 826.8,314.1 827.4,313.4 828.1,309.4 828.7,306.6 829.4,307.9 830.0,308.7 830.7,308.3 831.4,308.0 832.0,309.5 832.7,309.9 833.3,310.1 834.0,310.6 834.7,314.7 835.3,315.9 836.0,317.3 836.6,319.2 837.3,321.3 838.0,323.1 838.6,324.9 839.3,328.5 840.0,328.4 840.7,329.7 841.4,329.7 842.1,331.1 842.8,332.0 843.5,333.4 844.1,333.9 844.8,336.1 845.4,337.5 846.0,336.8 846.6,337.7 847.3,339.8 847.9,340.9 848.5,342.3 849.2,345.5 849.8,348.0 850.4,350.0 851.1,352.2 851.7,353.5 852.4,354.4 853.0,355.2 853.6,355.8 854.3,356.8 854.9,357.3 855.6,358.5 856.2,360.2 856.9,360.4 857.6,361.2 858.3,363.5 859.0,364.3 859.7,366.5 860.4,366.1 861.0,367.7 861.6,367.9 862.2,370.5 862.9,372.8 863.5,374.6 864.1,376.7 864.7,380.1 865.3,378.6 866.0,376.5 866.6,376.0 867.2,375.9 867.9,375.2 868.5,374.7 869.1,373.3 869.7,374.7 870.4,373.1 871.0,372.4 871.7,371.2 872.3,369.2 873.0,367.9 873.6,367.6 874.3,367.2 874.9,366.1 875.6,366.9 876.2,366.5 876.9,365.7 877.5,365.2 878.2,366.4 878.8,365.0 879.5,362.4 880.1,362.5 880.8,362.2 881.4,361.0 882.0,361.8 882.6,362.3 883.3,360.8 883.9,359.9 884.5,358.2 885.2,355.9 885.8,355.2 886.4,357.8 887.0,358.8 887.6,359.2 888.3,360.3 888.9,361.5 889.5,359.5 890.1,359.4 890.7,359.0 891.4,358.1 892.0,358.1 892.6,357.4 893.2,355.9 893.9,355.3 894.5,355.1 895.1,353.6 895.8,352.8 896.4,350.6 897.0,349.8 897.7,349.9 898.3,349.9 899.0,351.1 899.6,353.2 900.2,355.8 900.9,357.5 901.5,358.3 902.2,358.5 902.8,357.7 903.4,359.1 904.1,361.3 904.7,364.1 905.3,366.5 906.0,369.7 906.6,372.4 907.2,374.0 907.8,376.1 908.5,378.5 909.1,380.6 909.7,383.9 910.4,386.4 911.0,388.6 911.6,390.6 912.2,392.8 912.9,396.0 913.5,400.6 914.1,403.8 914.8,407.7 915.4,412.1 916.1,415.0 916.7,418.0 917.4,420.6 918.0,423.1 918.7,426.1 919.4,430.0 920.0,432.6 920.7,436.3 921.4,435.2 922.0,433.1 922.7,430.2 923.4,429.8 924.0,428.7 924.7,427.6 925.3,428.3 926.0,428.4 926.6,424.2 927.3,420.8 927.9,417.7 928.6,413.9 929.2,410.2 929.8,407.4 930.5,404.6 931.1,401.2 931.8,396.6 932.4,393.1 933.1,390.3 933.8,386.4 934.5,383.2 935.2,380.7 935.9,377.1 936.6,373.2 937.2,374.2 937.9,375.1 938.5,374.9 939.2,375.0 939.8,373.6 940.4,373.9 941.1,372.0 941.7,371.0 942.4,369.4 943.0,370.0 943.6,368.4 944.3,368.9 944.9,369.8 945.5,371.1 946.1,371.9 946.8,372.6 947.4,374.1 948.0,373.8 948.7,373.0 949.3,373.2 949.9,373.5 950.6,372.0 951.2,372.4 951.9,374.1 952.5,373.6 953.1,374.3 953.8,376.2 954.4,377.1 955.1,377.0 955.7,378.2 956.4,379.9 957.1,380.7 957.8,382.5 958.5,384.3 959.2,384.3 959.9,386.1 960.5,386.3 961.2,387.0 961.8,387.3 962.4,389.9 963.0,392.1 963.7,392.8 964.3,392.3 964.9,392.4 965.6,391.4 966.2,389.3 966.9,390.4 967.6,390.8 968.2,390.6 968.9,391.3 969.6,393.2 970.3,392.5 970.9,392.8 971.6,394.4 972.3,396.5 973.0,397.5 973.6,398.9 974.3,399.4 975.0,399.4 975.7,400.1 976.3,400.3 977.0,399.8 977.6,400.5 978.3,401.0 979.0,400.3 979.6,399.4 980.3,399.1 980.9,398.9 981.6,398.1 982.3,398.7 982.9,399.3 983.6,399.2 984.2,400.4 984.9,401.9 985.6,399.5 986.2,400.3 986.9,401.5 987.6,402.3 988.2,401.2 988.9,403.2 989.5,402.6 990.2,402.5 990.9,401.5 991.5,403.4 992.2,402.3 992.9,401.6 993.5,400.9 994.2,400.8 994.9,400.0 995.5,401.8 996.2,403.2 996.8,404.6 997.5,405.0 998.2,406.2 998.8,407.7 999.5,409.1 1000.2,410.3 1000.8,411.6 1001.5,414.1 1002.1,413.2 1002.8,413.3 1003.5,414.2 1004.1,414.4 1004.8,414.1 1005.4,413.8 1006.1,414.3 1006.7,413.8 1007.4,411.8 1008.0,410.8 1008.7,409.9 1009.4,409.1 1010.0,407.5 1010.7,407.5 1011.3,406.3 1012.0,405.7 1012.7,405.4 1013.3,405.9 1014.0,406.9 1014.7,407.2 1015.3,408.0 1016.0,406.3 1016.7,404.9 1017.3,401.8 1018.0,397.9 1018.7,395.2 1019.3,394.8 1020.0,392.1 1020.7,390.4 1021.3,391.8 1022.0,390.7 1022.6,391.1 1023.3,389.3 1024.0,389.6 1024.6,387.4 1025.3,385.8 1025.9,383.9 1026.6,383.7 1027.3,384.7 1027.9,385.9 1028.6,386.6 1029.2,385.0 1029.9,384.2 1030.6,383.0 1031.2,382.2 1031.9,383.3 1032.6,383.2 1033.2,381.9 1033.8,380.9 1034.5,379.9 1035.2,378.1 1035.8,376.8 1036.5,376.9 1037.1,375.5 1037.8,373.7 1038.5,373.8 1039.2,372.6 1039.8,371.9 1040.5,370.4 1041.2,370.5 1041.8,368.7 1042.5,366.8 1043.2,364.7 1043.8,365.3 1044.5,365.3 1045.2,365.4 1045.8,364.8 1046.5,363.2 1047.1,362.0 1047.8,361.0 1048.5,361.0 1049.1,361.7 1049.8,364.2 1050.4,365.4 1051.0,366.1 1051.7,366.6 1052.3,368.8 1053.0,369.8 1053.7,369.0 1054.3,367.5 1055.0,368.2 1055.7,368.5 1056.3,368.1 1057.0,369.3 1057.6,370.3 1058.3,370.2 1059.0,370.2 1059.6,371.2 1060.3,372.2 1061.0,373.0 1061.6,375.1 1062.3,376.9 1062.9,377.7 1063.6,377.5 1064.3,379.5 1064.9,378.5 1065.6,377.9 1066.3,377.2 1066.9,377.7 1067.6,377.9 1068.3,379.7 1068.9,381.4 1069.6,383.4 1070.2,384.5 1070.9,383.9 1071.6,385.6 1072.2,386.3 1072.9,387.0 1073.6,385.7 1074.2,385.4 1074.9,384.6 1075.6,385.0 1076.2,384.2 1076.9,384.7 1077.6,386.5 1078.2,386.2 1078.9,385.1 1079.5,386.1 1080.2,385.7 1080.9,386.0 1081.5,386.8 1082.2,387.1 1082.8,388.4 1083.5,388.5 1084.2,390.2 1084.8,390.9 1085.5,393.2 1086.2,393.7 1086.8,395.8 1087.5,397.4 1088.1,400.1 1088.8,402.3 1089.5,404.7 1090.1,405.4 1090.8,405.7 1091.4,406.2 1092.0,406.5 1092.7,408.2 1093.3,410.2 1094.0,411.6 1094.7,412.1 1095.3,412.1 1096.0,413.0 1096.7,415.3 1097.3,416.8 1098.0,417.7 1098.6,418.1 1099.3,418.6 1100.0,417.9 1100.6,417.3 1101.3,417.9 1102.0,420.2 1102.6,420.2 1103.3,418.4 1104.0,417.4 1104.6,415.8 1105.3,412.2 1105.9,409.7 1106.6,407.5 1107.3,405.2 1107.9,403.6 1108.6,402.4 1109.3,399.8 1109.9,400.2 1110.6,399.0 1111.2,398.2 1111.9,396.5 1112.6,397.2 1113.2,396.2 1113.9,395.9 1114.6,396.0 1115.2,398.5 1115.9,399.0 1116.5,399.5 1117.2,400.2 1117.9,401.7 1118.5,401.9 1119.2,403.8 1119.8,404.1 1120.5,405.1 1121.2,404.6 1121.8,406.0 1122.5,405.6 1123.1,405.0 1123.8,404.1 1124.5,404.5 1125.1,402.4 1125.8,401.2 1126.4,401.7 1127.1,401.7 1127.8,399.9 1128.4,398.4 1129.1,396.3 1129.7,394.7 1130.4,393.2 1131.1,393.6 1131.7,393.0 1132.4,393.8 1133.0,393.2 1133.7,390.8 1134.4,388.7 1135.0,389.5 1135.7,388.6 1136.3,388.1 1137.0,389.7 1137.7,389.9 1138.3,390.3 1139.0,390.3 1139.7,391.3 1140.3,392.5 1141.0,393.9 1141.6,394.9 1142.3,397.7 1143.0,399.3 1143.6,400.0 1144.3,402.2 1144.9,402.9 1145.6,403.7 1146.3,401.2 1146.9,400.0 1147.6,397.5 1148.2,395.5 1148.9,394.3 1149.6,393.0 1150.2,392.1 1150.9,391.3 1151.6,392.5 1152.2,390.3 1152.9,391.4 1153.6,390.9 1154.2,390.0 1154.9,388.6 1155.5,390.6 1156.2,389.6 1156.9,386.1 1157.5,383.6 1158.2,381.9 1158.8,378.2 1159.5,376.1 1160.2,375.4 1160.8,373.5 1161.5,371.4 1162.2,372.6 1162.8,372.2 1163.5,372.1 1164.2,374.1 1164.8,373.2 1165.5,371.9 1166.2,370.2 1166.8,366.4 1167.5,363.8 1168.1,361.7 1168.8,361.1 1169.4,361.2 1170.1,359.7 1170.7,361.4 1171.3,363.7 1172.0,366.2 1172.6,367.0 1173.3,368.4 1173.9,369.1 1174.6,371.3 1175.3,370.9 1175.9,371.9 1176.6,372.1 1177.3,371.8 1177.9,370.3 1178.6,370.3 1179.2,368.6 1179.9,368.3 1180.6,369.2 1181.2,369.8 1181.9,368.5 1182.6,370.7 1183.2,371.0 1183.9,369.2 1184.6,369.3 1185.2,371.4 1185.9,372.1 1186.6,371.9 1187.2,371.5 1187.9,370.4 1188.5,370.0 1189.2,369.0 1189.9,367.5 1190.5,365.8 1191.2,364.8 1191.8,364.7 1192.5,362.8 1193.2,364.2 1193.8,366.6 1194.5,368.3 1195.2,367.1 1195.8,367.7 1196.5,367.8 1197.2,372.9 1197.8,376.4 1198.4,381.2 1199.1,384.9 1199.8,387.2 1200.4,388.0 1201.1,391.0 1201.8,391.3 1202.4,394.7 1203.1,396.9 1203.8,398.4 1204.4,400.3 1205.0,402.6 1205.7,403.9 1206.3,405.8 1207.0,406.6 1207.7,406.9 1208.3,407.5 1209.0,407.7 1209.7,408.0 1210.3,411.1 1211.0,411.6 1211.7,413.8 1212.3,414.7 1213.0,414.7 1213.7,415.9 1214.3,417.2 1215.0,417.6 1215.7,416.5 1216.3,416.7 1217.0,414.4 1217.7,413.3 1218.3,411.3 1219.0,411.4 1219.6,409.1 1220.3,406.9 1221.0,405.0 1221.6,405.4 1222.3,403.7 1222.9,403.0 1223.6,402.6 1224.3,403.0 1224.9,400.9 1225.6,400.8 1226.2,400.7 1226.9,400.6 1227.6,401.0 1228.2,402.8 1228.9,403.5 1229.6,404.8 1230.2,406.2 1230.9,407.9 1231.5,407.2 1232.2,408.0 1232.9,406.3 1233.5,405.6 1234.2,403.2 1234.8,403.2 1235.5,402.3 1236.2,401.5 1236.8,400.6 1237.5,400.4 1238.1,400.5 1238.8,398.6 1239.5,397.8 1240.1,398.2 1240.8,399.0 1241.5,398.9 1242.1,400.2 1242.8,402.0 1243.5,402.0 1244.1,404.0 1244.8,404.9 1245.4,407.2 1246.0,408.5 1246.7,409.7 1247.3,409.7 1248.0,412.6 1248.7,411.5 1249.3,410.9 1250.0,412.2 1250.7,412.5 1251.3,411.1 1252.0,411.0 1252.7,411.1 1253.4,411.8 1254.0,411.8 1254.7,413.3 1255.4,414.1 1256.0,414.8 1256.7,414.1 1257.3,413.7 1258.0,412.1 1258.7,410.3 1259.3,408.2 1260.0,407.0 1260.6,406.1 1261.3,406.7 1262.0,405.2 1262.6,403.4 1263.3,400.2 1263.9,398.6 1264.6,395.2 1265.3,392.0 1265.9,389.6 1266.6,387.3 1267.3,387.0 1267.9,386.4 1268.6,388.2 1269.2,388.2 1269.9,388.9 1270.6,388.7 1271.2,388.1 1271.9,385.6 1272.5,384.5 1273.2,383.4 1273.9,382.3 1274.5,381.8 1275.2,381.7 1275.8,380.6 1276.5,379.9 1277.2,377.1 1277.8,375.9 1278.5,372.6 1279.2,371.9 1279.8,371.3 1280.5,371.6 1281.1,368.9 1281.8,369.3 1282.4,367.1 1283.1,367.1 1283.7,366.5 1284.4,369.3 1285.1,371.0 1285.7,372.5 1286.4,373.8 1287.1,374.6 1287.7,375.7 1288.4,375.5 1289.1,375.7 1289.7,375.1 1290.4,375.0 1291.0,374.3 1291.7,375.0 1292.4,375.8 1293.0,377.1 1293.7,377.7 1294.3,376.1 1295.0,375.9 1295.7,375.9 1296.3,377.7 1297.0,377.3 1297.6,378.3 1298.3,378.4 1299.0,377.6 1299.6,376.4 1300.3,376.6 1300.9,375.7 1301.6,374.9 1302.3,375.1 1302.9,372.2 1303.6,372.4 1304.3,374.5 1304.9,375.5 1305.6,374.5 1306.3,376.2 1306.9,375.5 1307.6,376.8 1308.3,374.3 1308.9,374.0 1309.6,372.1 1310.2,371.2 1310.9,369.7 1311.6,368.5 1312.2,367.7 1312.9,368.5 1313.6,371.1 1314.2,372.7 1314.8,375.0 1315.5,375.9 1316.2,376.2 1316.8,376.0 1317.4,376.9 1318.1,378.4 1318.8,380.4 1319.4,381.3 1320.1,381.0 1320.8,382.0 1321.4,382.7 1322.1,381.6 1322.7,380.9 1323.4,380.3 1324.1,376.8 1324.7,375.2 1325.4,372.9 1326.1,370.8 1326.7,370.6 1327.4,369.8 1328.0,367.9 1328.7,367.3 1329.4,368.7 1330.0,367.6 1330.7,367.7 1331.4,366.1 1332.0,365.7 1332.7,364.4 1333.4,365.6 1334.0,366.0 1334.7,367.0 1335.3,367.7 1336.0,368.6 1336.7,369.0 1337.3,368.3 1338.0,368.2 1338.6,367.4 1339.3,367.1 1340.0,368.8 1340.6,373.1 1341.3,375.8 1341.9,378.6 1342.6,379.9 1343.3,381.2 1343.9,380.7 1344.6,382.2 1345.3,381.5 1345.9,383.7 1346.6,384.3 1347.2,385.8 1347.9,384.5 1348.6,385.7 1349.2,385.3 1349.9,386.3 1350.6,386.0 1351.2,387.8 1351.9,388.0 1352.6,386.4 1353.2,385.8 1353.9,383.7 1354.5,384.0 1355.2,384.1 1355.9,385.7 1356.6,385.9 1357.3,387.6 1357.9,388.8 1358.6,390.1 1359.3,390.6 1360.0,392.5 1360.7,392.0 1361.3,389.6 1362.0,388.4 1362.6,388.1 1363.3,387.0 1364.0,388.6 1364.6,392.3 1365.3,392.4 1365.9,393.4 1366.6,394.2 1367.3,395.7 1367.9,395.9 1368.6,399.2 1369.2,400.0 1369.9,401.6 1370.6,403.1 1371.2,404.3 1371.9,403.6 1372.6,401.8 1373.2,398.6 1373.9,397.6 1374.6,396.0 1375.2,395.7 1375.9,393.8 1376.5,393.6 1377.2,391.2 1377.9,390.2 1378.5,389.7 1379.2,392.0 1379.8,392.7 1380.5,393.4 1381.2,394.9 1381.8,395.2 1382.5,394.9 1383.1,394.7 1383.8,395.2 1384.5,394.3 1385.1,394.1 1385.8,393.4 1386.4,392.4 1387.1,393.0 1387.8,392.9 1388.4,392.8 1389.1,393.9 1389.7,394.8 1390.4,391.7 1391.1,391.9 1391.7,392.3 1392.4,392.2 1393.0,392.2 1393.7,394.0 1394.4,392.8 1395.0,391.8 1395.7,390.8 1396.3,390.3 1397.0,389.2 1397.7,389.4 1398.3,389.4 1399.0,389.0 1399.7,388.5 1400.3,388.7 1401.0,387.8 1401.6,388.6 1402.3,389.4 1403.0,391.0 1403.6,393.9 1404.3,397.1 1405.0,398.7 1405.6,399.9 1406.3,401.4 1407.0,401.5 1407.6,402.3 1408.3,401.6 1408.9,403.0 1409.6,405.4 1410.3,406.7 1410.9,407.8 1411.6,409.3 1412.2,408.1 1412.9,406.6 1413.6,406.1 1414.2,406.1 1414.9,406.9 1415.6,408.9 1416.2,409.2 1416.9,412.7 1417.6,413.6 1418.2,412.9 1418.9,412.3 1419.5,413.4 1420.2,411.3 1420.9,408.9 1421.5,408.1 1422.2,406.4 1422.8,405.6 1423.5,404.7 1424.2,402.3 1424.8,398.9 1425.5,396.7 1426.2,393.8 1426.8,391.4 1427.5,387.7 1428.1,385.7 1428.8,383.6 1429.5,384.5 1430.1,384.3 1430.8,385.2 1431.4,385.2 1432.1,385.6 1432.8,386.7 1433.4,387.4 1434.1,387.8 1434.8,387.9 1435.4,387.2 1436.1,385.1 1436.8,384.4 1437.4,384.4 1438.1,384.3 1438.7,382.9 1439.4,382.5 1440.1,383.0 1440.7,381.8 1441.4,381.0 1442.1,381.7 1442.7,381.9 1443.4,380.4 1444.0,380.8 1444.7,380.1 1445.4,380.8 1446.0,381.0 1446.7,383.2 1447.3,382.8 1448.0,383.6 1448.7,384.1 1449.3,386.1 1450.0,385.6 1450.6,387.9 1451.3,388.3 1451.9,389.5 1452.6,390.8 1453.3,390.8 1453.9,390.6 1454.6,390.2 1455.2,390.3 1455.9,389.8 1456.6,389.9 1457.2,388.7 1457.9,389.5 1458.5,389.5 1459.2,389.3 1459.9,390.0 1460.5,389.6 1461.2,389.0 1461.8,389.3 1462.5,387.8 1463.2,388.2 1463.8,390.9 1464.5,392.0 1465.1,391.9 1465.8,392.7 1466.5,390.6 1467.1,388.7 1467.8,387.5 1468.4,386.2 1469.1,386.4 1469.8,386.7 1470.4,386.4 1471.1,386.4 1471.8,387.7 1472.4,389.8 1473.1,391.6 1473.8,392.8 1474.4,393.7 1475.1,394.6 1475.7,395.5 1476.4,396.6 1477.1,396.0 1477.7,396.0 1478.4,396.6 1479.0,395.5 1479.7,396.4 1480.3,396.6 1481.0,397.6 1481.7,398.0 1482.3,397.7 1483.0,397.2 1483.6,398.2 1484.3,398.4 1485.0,399.0 1485.6,401.0 1486.3,400.8 1486.9,401.1 1487.6,402.3 1488.3,404.3 1488.9,405.1 1489.6,406.8 1490.3,409.5 1490.9,408.6 1491.6,408.5 1492.2,410.1 1492.9,412.2 1493.6,411.9 1494.2,413.2 1494.9,415.9 1495.6,414.9 1496.2,413.1 1496.9,413.2 1497.6,414.5 1498.2,411.0 1498.9,411.0 1499.5,411.5 1500.2,409.4 1500.9,409.1 1501.5,409.5 1502.2,409.4 1502.8,409.0 1503.5,411.8 1504.2,410.7 1504.8,411.8 1505.5,411.6 1506.2,410.9 1506.8,408.9 1507.5,409.2 1508.2,409.2 1508.8,407.8 1509.5,408.6 1510.1,409.6 1510.8,410.0 1511.5,409.5 1512.3,408.4 1513.0,407.3 1513.6,406.4 1514.3,406.8 1514.9,404.2 1515.5,404.4 1516.1,403.3 1516.8,403.2 1517.4,402.2 1518.1,403.9 1518.8,403.9 1519.6,403.2 1520.3,403.7 1521.0,404.4 1521.7,406.0 1522.4,407.5 1523.2,410.6 1523.9,412.3 1524.6,414.0" fill="none" stroke="#006400" stroke-width="8.6" stroke-linejoin="round"/>
<!-- frame -->
<rect x="172" y="9" width="1385" height="625" fill="none" stroke="#000" stroke-width="4"/>
<!-- y ticks -->
<g stroke="#505050" stroke-width="3.5">
<line x1="158.1" y1="258.9" x2="172" y2="258.9"/>
<line x1="158.1" y1="616.9" x2="172" y2="616.9"/>
<line x1="205" y1="634" x2="205" y2="647.9"/>
<line x1="535" y1="634" x2="535" y2="647.9"/>
<line x1="864" y1="634" x2="864" y2="647.9"/>
<line x1="1194.2" y1="634" x2="1194.2" y2="647.9"/>
<line x1="1523.9" y1="634" x2="1523.9" y2="647.9"/>
</g>
<g class="g">
<text x="153.3" y="270.7" text-anchor="end">1.00</text>
<text x="153.3" y="628.2" text-anchor="end">0.80</text>
<text x="205" y="676" text-anchor="middle">-1000 bp</text>
<text x="534.5" y="676" text-anchor="middle">-500 bp</text>
<text x="864.5" y="676" text-anchor="middle">0</text>
<text x="1194" y="676" text-anchor="middle">+500 bp</text>
<text x="1524" y="676" text-anchor="middle">+1000 bp</text>
<text x="864.5" y="741" text-anchor="middle">Somatic Mutations Location</text>
<text x="205" y="741" text-anchor="middle">5’</text>
<text x="1524" y="741" text-anchor="middle">3’</text>
<text transform="translate(31,323) rotate(-90)" text-anchor="middle">Average</text>
<text transform="translate(63.3,323.5) rotate(-90)" text-anchor="middle">Nucleosome Signal</text>
</g>
<g class="k">
<text x="185.5" y="57">ID3</text>
<text x="1543.5" y="57" text-anchor="end">Head-SCC</text>
<text x="274.5" y="561.8">Real Indels</text>
<text x="275" y="603.4">Simulated Indels</text>
</g>
<!-- legend handles -->
<line x1="193.9" y1="552.6" x2="256.9" y2="552.6" stroke="#006400" stroke-width="6.6"/>
<line x1="197.4" y1="594.5" x2="222.9" y2="594.5" stroke="#808080" stroke-width="6.6"/>
<line x1="234.1" y1="594.5" x2="253.5" y2="594.5" stroke="#808080" stroke-width="6.6"/>
</svg>
</body></html>
